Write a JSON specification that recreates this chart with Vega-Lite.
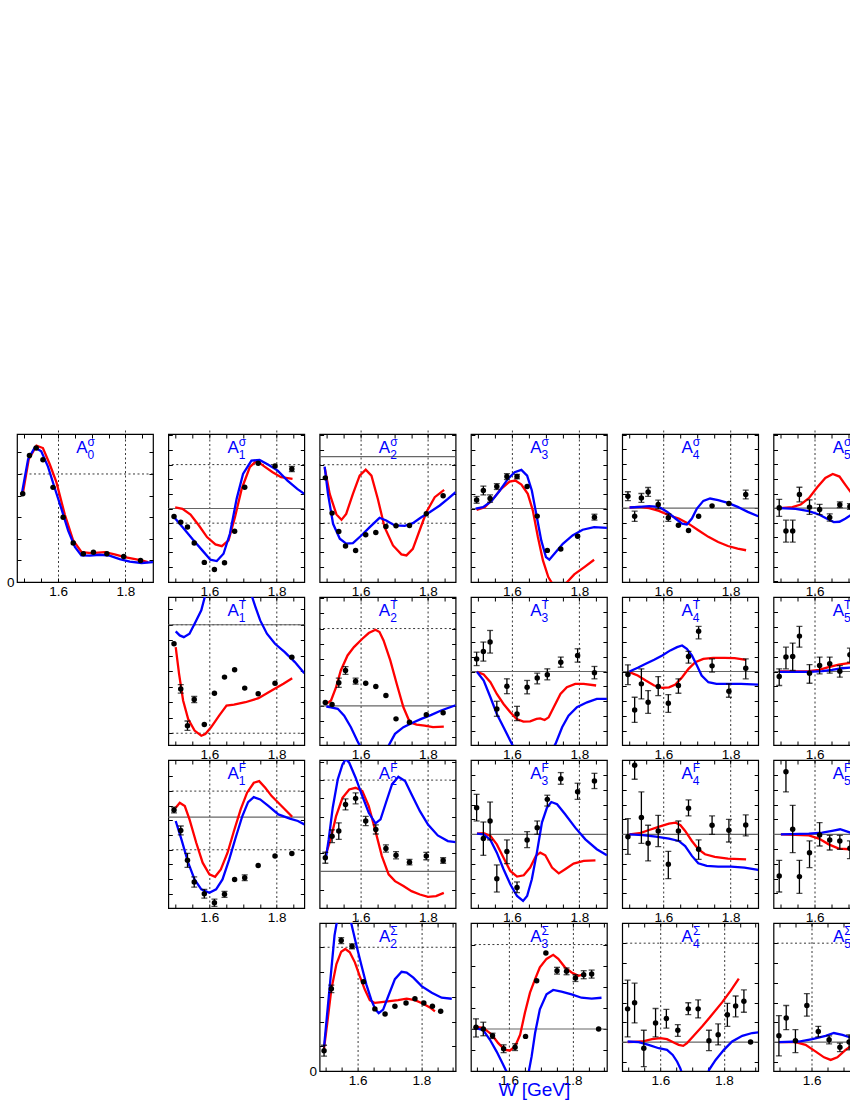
{
"$schema":"https://vega.github.io/schema/vega-lite/v6.json",
"padding":{"left":5,"top":432,"right":0,"bottom":0},
"config":{"font":"Liberation Sans","view":{"stroke":"#000","strokeWidth":1.2},"axis":{"domain":false,"grid":false,"offset":-4,"tickSize":4,"tickColor":"#000","tickWidth":1,"labelFont":"Liberation Sans","labelFontSize":13.5,"labelColor":"#000","labelPadding":2.5}},
"data":{"values":[
{"p":"s0","k":"t","w":1.654,"y":6.85,"s":"σ","b":"0"},
{"p":"s0","k":"g","y":5},
{"p":"s0","k":"p","w":1.495,"y":4.08},{"p":"s0","k":"p","w":1.515,"y":5.85},{"p":"s0","k":"p","w":1.535,"y":6.2},{"p":"s0","k":"p","w":1.555,"y":5.66},{"p":"s0","k":"p","w":1.585,"y":4.38},{"p":"s0","k":"p","w":1.615,"y":3.0},{"p":"s0","k":"p","w":1.645,"y":1.8},{"p":"s0","k":"p","w":1.675,"y":1.31},{"p":"s0","k":"p","w":1.705,"y":1.38},{"p":"s0","k":"p","w":1.745,"y":1.31},{"p":"s0","k":"p","w":1.795,"y":1.18},{"p":"s0","k":"p","w":1.845,"y":1.0},
{"p":"s0","k":"r","w":1.496,"y":4.15},{"p":"s0","k":"r","w":1.513,"y":5.69},{"p":"s0","k":"r","w":1.536,"y":6.31},{"p":"s0","k":"r","w":1.555,"y":6.2},{"p":"s0","k":"r","w":1.575,"y":5.46},{"p":"s0","k":"r","w":1.595,"y":4.62},{"p":"s0","k":"r","w":1.62,"y":3.12},{"p":"s0","k":"r","w":1.645,"y":1.92},{"p":"s0","k":"r","w":1.67,"y":1.38},{"p":"s0","k":"r","w":1.699,"y":1.34},{"p":"s0","k":"r","w":1.739,"y":1.38},{"p":"s0","k":"r","w":1.768,"y":1.28},{"p":"s0","k":"r","w":1.798,"y":1.15},{"p":"s0","k":"r","w":1.848,"y":1.0},{"p":"s0","k":"r","w":1.867,"y":0.92},
{"p":"s0","k":"b","w":1.493,"y":4.15},{"p":"s0","k":"b","w":1.511,"y":5.69},{"p":"s0","k":"b","w":1.531,"y":6.23},{"p":"s0","k":"b","w":1.55,"y":6.05},{"p":"s0","k":"b","w":1.57,"y":5.34},{"p":"s0","k":"b","w":1.59,"y":4.35},{"p":"s0","k":"b","w":1.61,"y":3.38},{"p":"s0","k":"b","w":1.63,"y":2.38},{"p":"s0","k":"b","w":1.65,"y":1.62},{"p":"s0","k":"b","w":1.669,"y":1.23},{"p":"s0","k":"b","w":1.694,"y":1.22},{"p":"s0","k":"b","w":1.724,"y":1.26},{"p":"s0","k":"b","w":1.753,"y":1.22},{"p":"s0","k":"b","w":1.783,"y":1.06},{"p":"s0","k":"b","w":1.813,"y":0.94},{"p":"s0","k":"b","w":1.848,"y":0.88},{"p":"s0","k":"b","w":1.882,"y":0.92},

{"p":"s1","k":"t","w":1.654,"y":5.09,"s":"σ","b":"1"},
{"p":"s1","k":"g","y":-1},{"p":"s1","k":"g","y":3},{"p":"s1","k":"z","y":0},
{"p":"s1","k":"p","w":1.495,"y":-0.55},{"p":"s1","k":"p","w":1.515,"y":-0.93},{"p":"s1","k":"p","w":1.535,"y":-1.27},{"p":"s1","k":"p","w":1.555,"y":-2.36},{"p":"s1","k":"p","w":1.585,"y":-3.68},{"p":"s1","k":"p","w":1.615,"y":-4.16},{"p":"s1","k":"p","w":1.645,"y":-3.7},{"p":"s1","k":"p","w":1.675,"y":-1.55},{"p":"s1","k":"p","w":1.705,"y":1.45},{"p":"s1","k":"p","w":1.745,"y":3.09},{"p":"s1","k":"p","w":1.795,"y":2.91},{"p":"s1","k":"p","w":1.845,"y":2.7,"lo":2.52,"hi":2.88},
{"p":"s1","k":"r","w":1.4985,"y":0.07},{"p":"s1","k":"r","w":1.52,"y":-0.02},{"p":"s1","k":"r","w":1.544,"y":-0.41},{"p":"s1","k":"r","w":1.569,"y":-1.16},{"p":"s1","k":"r","w":1.593,"y":-1.95},{"p":"s1","k":"r","w":1.618,"y":-2.45},{"p":"s1","k":"r","w":1.637,"y":-2.57},{"p":"s1","k":"r","w":1.657,"y":-2.18},{"p":"s1","k":"r","w":1.676,"y":-0.59},{"p":"s1","k":"r","w":1.696,"y":1.34},{"p":"s1","k":"r","w":1.72,"y":2.82},{"p":"s1","k":"r","w":1.74,"y":3.27},{"p":"s1","k":"r","w":1.764,"y":2.86},{"p":"s1","k":"r","w":1.788,"y":2.48},{"p":"s1","k":"r","w":1.813,"y":2.14},{"p":"s1","k":"r","w":1.847,"y":2.02},
{"p":"s1","k":"b","w":1.491,"y":-0.48},{"p":"s1","k":"b","w":1.52,"y":-1.27},{"p":"s1","k":"b","w":1.549,"y":-2.07},{"p":"s1","k":"b","w":1.579,"y":-2.86},{"p":"s1","k":"b","w":1.603,"y":-3.5},{"p":"s1","k":"b","w":1.622,"y":-3.59},{"p":"s1","k":"b","w":1.642,"y":-3.09},{"p":"s1","k":"b","w":1.661,"y":-1.73},{"p":"s1","k":"b","w":1.681,"y":0.66},{"p":"s1","k":"b","w":1.7,"y":2.36},{"p":"s1","k":"b","w":1.725,"y":3.27},{"p":"s1","k":"b","w":1.749,"y":3.32},{"p":"s1","k":"b","w":1.774,"y":3.0},{"p":"s1","k":"b","w":1.803,"y":2.59},{"p":"s1","k":"b","w":1.832,"y":1.91},{"p":"s1","k":"b","w":1.861,"y":1.34},{"p":"s1","k":"b","w":1.882,"y":1.0},

{"p":"s2","k":"t","w":1.654,"y":1.55,"s":"σ","b":"2"},
{"p":"s2","k":"g","y":-0.55},{"p":"s2","k":"g","y":-4.55},{"p":"s2","k":"z","y":0},
{"p":"s2","k":"p","w":1.495,"y":-1.45},{"p":"s2","k":"p","w":1.515,"y":-3.86},{"p":"s2","k":"p","w":1.535,"y":-5.11},{"p":"s2","k":"p","w":1.555,"y":-6.11},{"p":"s2","k":"p","w":1.585,"y":-6.41},{"p":"s2","k":"p","w":1.615,"y":-5.34},{"p":"s2","k":"p","w":1.645,"y":-5.18},{"p":"s2","k":"p","w":1.675,"y":-4.77},{"p":"s2","k":"p","w":1.705,"y":-4.73},{"p":"s2","k":"p","w":1.745,"y":-4.7},{"p":"s2","k":"p","w":1.795,"y":-3.91},{"p":"s2","k":"p","w":1.845,"y":-2.68},
{"p":"s2","k":"r","w":1.493,"y":-0.73},{"p":"s2","k":"r","w":1.508,"y":-2.55},{"p":"s2","k":"r","w":1.528,"y":-3.95},{"p":"s2","k":"r","w":1.543,"y":-4.32},{"p":"s2","k":"r","w":1.557,"y":-3.91},{"p":"s2","k":"r","w":1.577,"y":-2.55},{"p":"s2","k":"r","w":1.597,"y":-1.3},{"p":"s2","k":"r","w":1.615,"y":-0.89},{"p":"s2","k":"r","w":1.632,"y":-1.3},{"p":"s2","k":"r","w":1.651,"y":-2.89},{"p":"s2","k":"r","w":1.671,"y":-4.82},{"p":"s2","k":"r","w":1.696,"y":-6.07},{"p":"s2","k":"r","w":1.721,"y":-6.68},{"p":"s2","k":"r","w":1.736,"y":-6.75},{"p":"s2","k":"r","w":1.755,"y":-6.3},{"p":"s2","k":"r","w":1.775,"y":-5.05},{"p":"s2","k":"r","w":1.795,"y":-3.8},{"p":"s2","k":"r","w":1.82,"y":-2.77},{"p":"s2","k":"r","w":1.848,"y":-2.27},
{"p":"s2","k":"b","w":1.493,"y":-0.68},{"p":"s2","k":"b","w":1.503,"y":-2.55},{"p":"s2","k":"b","w":1.518,"y":-4.59},{"p":"s2","k":"b","w":1.538,"y":-5.61},{"p":"s2","k":"b","w":1.557,"y":-5.95},{"p":"s2","k":"b","w":1.577,"y":-5.91},{"p":"s2","k":"b","w":1.602,"y":-5.39},{"p":"s2","k":"b","w":1.627,"y":-4.82},{"p":"s2","k":"b","w":1.656,"y":-4.18},{"p":"s2","k":"b","w":1.676,"y":-4.36},{"p":"s2","k":"b","w":1.701,"y":-4.7},{"p":"s2","k":"b","w":1.731,"y":-4.73},{"p":"s2","k":"b","w":1.755,"y":-4.55},{"p":"s2","k":"b","w":1.78,"y":-4.14},{"p":"s2","k":"b","w":1.805,"y":-3.8},{"p":"s2","k":"b","w":1.835,"y":-3.34},{"p":"s2","k":"b","w":1.859,"y":-2.89},{"p":"s2","k":"b","w":1.882,"y":-2.43},

{"p":"s3","k":"t","w":1.654,"y":5.09,"s":"σ","b":"3"},
{"p":"s3","k":"z","y":0},
{"p":"s3","k":"p","w":1.495,"y":0.59,"lo":0.36,"hi":0.82},{"p":"s3","k":"p","w":1.515,"y":1.23,"lo":0.93,"hi":1.53},{"p":"s3","k":"p","w":1.535,"y":0.68,"lo":0.43,"hi":0.93},{"p":"s3","k":"p","w":1.555,"y":1.5,"lo":1.3,"hi":1.7},{"p":"s3","k":"p","w":1.585,"y":2.18,"lo":1.98,"hi":2.38},{"p":"s3","k":"p","w":1.615,"y":2.18,"lo":2.03,"hi":2.33},{"p":"s3","k":"p","w":1.645,"y":1.5},{"p":"s3","k":"p","w":1.675,"y":-0.52},{"p":"s3","k":"p","w":1.705,"y":-2.86},{"p":"s3","k":"p","w":1.745,"y":-2.77},{"p":"s3","k":"p","w":1.795,"y":-1.89},{"p":"s3","k":"p","w":1.845,"y":-0.59,"lo":-0.79,"hi":-0.39},
{"p":"s3","k":"r","w":1.495,"y":-0.09},{"p":"s3","k":"r","w":1.519,"y":0.09},{"p":"s3","k":"r","w":1.544,"y":0.66},{"p":"s3","k":"r","w":1.568,"y":1.34},{"p":"s3","k":"r","w":1.593,"y":1.84},{"p":"s3","k":"r","w":1.61,"y":1.91},{"p":"s3","k":"r","w":1.628,"y":1.64},{"p":"s3","k":"r","w":1.647,"y":1.0},{"p":"s3","k":"r","w":1.662,"y":-0.14},{"p":"s3","k":"r","w":1.677,"y":-1.95},{"p":"s3","k":"r","w":1.692,"y":-3.55},{"p":"s3","k":"r","w":1.708,"y":-4.68},{"p":"s3","k":"r","w":1.724,"y":-5.3},{"p":"s3","k":"r","w":1.741,"y":-5.7},{"p":"s3","k":"r","w":1.761,"y":-5.1},{"p":"s3","k":"r","w":1.785,"y":-4.5},{"p":"s3","k":"r","w":1.815,"y":-4.0},{"p":"s3","k":"r","w":1.844,"y":-3.5},
{"p":"s3","k":"b","w":1.492,"y":0.0},{"p":"s3","k":"b","w":1.514,"y":0.09},{"p":"s3","k":"b","w":1.539,"y":0.5},{"p":"s3","k":"b","w":1.564,"y":1.23},{"p":"s3","k":"b","w":1.588,"y":2.02},{"p":"s3","k":"b","w":1.608,"y":2.48},{"p":"s3","k":"b","w":1.628,"y":2.64},{"p":"s3","k":"b","w":1.645,"y":2.25},{"p":"s3","k":"b","w":1.659,"y":1.23},{"p":"s3","k":"b","w":1.672,"y":-0.36},{"p":"s3","k":"b","w":1.687,"y":-2.18},{"p":"s3","k":"b","w":1.701,"y":-3.32},{"p":"s3","k":"b","w":1.711,"y":-3.5},{"p":"s3","k":"b","w":1.726,"y":-3.09},{"p":"s3","k":"b","w":1.751,"y":-2.41},{"p":"s3","k":"b","w":1.78,"y":-1.84},{"p":"s3","k":"b","w":1.81,"y":-1.45},{"p":"s3","k":"b","w":1.844,"y":-1.27},{"p":"s3","k":"b","w":1.882,"y":-1.32},

{"p":"s4","k":"t","w":1.654,"y":5.05,"s":"σ","b":"4"},
{"p":"s4","k":"z","y":0},
{"p":"s4","k":"p","w":1.495,"y":0.82,"lo":0.52,"hi":1.12},{"p":"s4","k":"p","w":1.515,"y":-0.55,"lo":-0.9,"hi":-0.2},{"p":"s4","k":"p","w":1.535,"y":0.7,"lo":0.4,"hi":1.0},{"p":"s4","k":"p","w":1.555,"y":1.11,"lo":0.81,"hi":1.41},{"p":"s4","k":"p","w":1.585,"y":0.25,"lo":-0.05,"hi":0.55},{"p":"s4","k":"p","w":1.615,"y":-0.64,"lo":-0.89,"hi":-0.39},{"p":"s4","k":"p","w":1.645,"y":-1.16},{"p":"s4","k":"p","w":1.675,"y":-1.52},{"p":"s4","k":"p","w":1.705,"y":-0.55},{"p":"s4","k":"p","w":1.745,"y":0.16},{"p":"s4","k":"p","w":1.795,"y":0.32},{"p":"s4","k":"p","w":1.845,"y":0.93,"lo":0.63,"hi":1.23},
{"p":"s4","k":"r","w":1.5,"y":0.05},{"p":"s4","k":"r","w":1.529,"y":0.09},{"p":"s4","k":"r","w":1.558,"y":0.0},{"p":"s4","k":"r","w":1.587,"y":-0.18},{"p":"s4","k":"r","w":1.617,"y":-0.48},{"p":"s4","k":"r","w":1.646,"y":-0.7},{"p":"s4","k":"r","w":1.675,"y":-1.05},{"p":"s4","k":"r","w":1.704,"y":-1.5},{"p":"s4","k":"r","w":1.734,"y":-1.95},{"p":"s4","k":"r","w":1.763,"y":-2.3},{"p":"s4","k":"r","w":1.792,"y":-2.57},{"p":"s4","k":"r","w":1.821,"y":-2.75},{"p":"s4","k":"r","w":1.846,"y":-2.86},
{"p":"s4","k":"b","w":1.5,"y":0.05},{"p":"s4","k":"b","w":1.529,"y":0.09},{"p":"s4","k":"b","w":1.558,"y":0.14},{"p":"s4","k":"b","w":1.587,"y":0.09},{"p":"s4","k":"b","w":1.612,"y":-0.25},{"p":"s4","k":"b","w":1.636,"y":-0.7},{"p":"s4","k":"b","w":1.656,"y":-1.05},{"p":"s4","k":"b","w":1.67,"y":-1.11},{"p":"s4","k":"b","w":1.685,"y":-0.7},{"p":"s4","k":"b","w":1.7,"y":-0.02},{"p":"s4","k":"b","w":1.719,"y":0.5},{"p":"s4","k":"b","w":1.739,"y":0.66},{"p":"s4","k":"b","w":1.763,"y":0.55},{"p":"s4","k":"b","w":1.792,"y":0.36},{"p":"s4","k":"b","w":1.821,"y":0.09},{"p":"s4","k":"b","w":1.851,"y":-0.25},{"p":"s4","k":"b","w":1.882,"y":-0.55},

{"p":"s5","k":"t","w":1.654,"y":5.07,"s":"σ","b":"5"},
{"p":"s5","k":"z","y":0},
{"p":"s5","k":"p","w":1.495,"y":0.02,"lo":-0.56,"hi":0.6},{"p":"s5","k":"p","w":1.515,"y":-1.57,"lo":-2.32,"hi":-0.82},{"p":"s5","k":"p","w":1.535,"y":-1.57,"lo":-2.32,"hi":-0.82},{"p":"s5","k":"p","w":1.555,"y":0.93,"lo":0.43,"hi":1.43},{"p":"s5","k":"p","w":1.585,"y":0.07,"lo":-0.43,"hi":0.57},{"p":"s5","k":"p","w":1.615,"y":-0.09,"lo":-0.44,"hi":0.26},{"p":"s5","k":"p","w":1.645,"y":-0.64,"lo":-0.89,"hi":-0.39},{"p":"s5","k":"p","w":1.675,"y":0.23,"lo":0.03,"hi":0.43},{"p":"s5","k":"p","w":1.705,"y":0.11,"lo":-0.09,"hi":0.31},
{"p":"s5","k":"r","w":1.497,"y":0.0},{"p":"s5","k":"r","w":1.534,"y":0.07},{"p":"s5","k":"r","w":1.559,"y":0.25},{"p":"s5","k":"r","w":1.583,"y":0.68},{"p":"s5","k":"r","w":1.608,"y":1.43},{"p":"s5","k":"r","w":1.632,"y":2.07},{"p":"s5","k":"r","w":1.654,"y":2.34},{"p":"s5","k":"r","w":1.674,"y":2.16},{"p":"s5","k":"r","w":1.691,"y":1.61},{"p":"s5","k":"r","w":1.711,"y":0.98},{"p":"s5","k":"r","w":1.73,"y":0.5},
{"p":"s5","k":"b","w":1.497,"y":0.0},{"p":"s5","k":"b","w":1.544,"y":-0.05},{"p":"s5","k":"b","w":1.583,"y":-0.2},{"p":"s5","k":"b","w":1.613,"y":-0.43},{"p":"s5","k":"b","w":1.637,"y":-0.73},{"p":"s5","k":"b","w":1.657,"y":-0.95},{"p":"s5","k":"b","w":1.674,"y":-0.93},{"p":"s5","k":"b","w":1.691,"y":-0.73},{"p":"s5","k":"b","w":1.711,"y":-0.43},{"p":"s5","k":"b","w":1.73,"y":-0.2},

{"p":"t1","k":"t","w":1.654,"y":1.79,"s":"T","b":"1"},
{"p":"t1","k":"g","y":-7},{"p":"t1","k":"z","y":0},{"p":"t1","k":"g","y":0},
{"p":"t1","k":"p","w":1.495,"y":-1.23},{"p":"t1","k":"p","w":1.515,"y":-4.14,"lo":-4.41,"hi":-3.87},{"p":"t1","k":"p","w":1.535,"y":-6.51,"lo":-6.81,"hi":-6.21},{"p":"t1","k":"p","w":1.555,"y":-4.83,"lo":-5.03,"hi":-4.63},{"p":"t1","k":"p","w":1.585,"y":-6.44},{"p":"t1","k":"p","w":1.615,"y":-4.42},{"p":"t1","k":"p","w":1.645,"y":-3.38},{"p":"t1","k":"p","w":1.675,"y":-2.91},{"p":"t1","k":"p","w":1.705,"y":-4.09},{"p":"t1","k":"p","w":1.745,"y":-4.46},{"p":"t1","k":"p","w":1.795,"y":-3.77},{"p":"t1","k":"p","w":1.845,"y":-2.09},
{"p":"t1","k":"r","w":1.5,"y":-1.44},{"p":"t1","k":"r","w":1.51,"y":-3.17},{"p":"t1","k":"r","w":1.522,"y":-4.89},{"p":"t1","k":"r","w":1.537,"y":-6.08},{"p":"t1","k":"r","w":1.556,"y":-6.83},{"p":"t1","k":"r","w":1.576,"y":-7.16},{"p":"t1","k":"r","w":1.588,"y":-7.05},{"p":"t1","k":"r","w":1.605,"y":-6.62},{"p":"t1","k":"r","w":1.629,"y":-5.86},{"p":"t1","k":"r","w":1.651,"y":-5.22},{"p":"t1","k":"r","w":1.673,"y":-5.15},{"p":"t1","k":"r","w":1.707,"y":-5.0},{"p":"t1","k":"r","w":1.746,"y":-4.74},{"p":"t1","k":"r","w":1.785,"y":-4.25},{"p":"t1","k":"r","w":1.82,"y":-3.81},{"p":"t1","k":"r","w":1.846,"y":-3.45},
{"p":"t1","k":"b","w":1.5,"y":-0.43},{"p":"t1","k":"b","w":1.512,"y":-0.69},{"p":"t1","k":"b","w":1.524,"y":-0.8},{"p":"t1","k":"b","w":1.541,"y":-0.58},{"p":"t1","k":"b","w":1.561,"y":0.28},{"p":"t1","k":"b","w":1.576,"y":0.93},{"p":"t1","k":"b","w":1.585,"y":1.68},{"p":"t1","k":"b","w":1.595,"y":2.4},{"p":"t1","k":"b","w":1.62,"y":3.5},{"p":"t1","k":"b","w":1.66,"y":4.0},{"p":"t1","k":"b","w":1.7,"y":3.3},{"p":"t1","k":"b","w":1.727,"y":1.79},{"p":"t1","k":"b","w":1.737,"y":1.14},{"p":"t1","k":"b","w":1.751,"y":0.28},{"p":"t1","k":"b","w":1.771,"y":-0.58},{"p":"t1","k":"b","w":1.795,"y":-1.23},{"p":"t1","k":"b","w":1.824,"y":-1.77},{"p":"t1","k":"b","w":1.854,"y":-2.41},{"p":"t1","k":"b","w":1.882,"y":-3.13},

{"p":"t2","k":"t","w":1.654,"y":7.04,"s":"T","b":"2"},
{"p":"t2","k":"g","y":5},{"p":"t2","k":"z","y":0},
{"p":"t2","k":"p","w":1.495,"y":0.22},{"p":"t2","k":"p","w":1.515,"y":0.09},{"p":"t2","k":"p","w":1.535,"y":1.49,"lo":1.19,"hi":1.79},{"p":"t2","k":"p","w":1.555,"y":2.29,"lo":2.04,"hi":2.54},{"p":"t2","k":"p","w":1.585,"y":1.6,"lo":1.4,"hi":1.8},{"p":"t2","k":"p","w":1.615,"y":1.47},{"p":"t2","k":"p","w":1.645,"y":1.25},{"p":"t2","k":"p","w":1.675,"y":0.67},{"p":"t2","k":"p","w":1.705,"y":-0.84},{"p":"t2","k":"p","w":1.745,"y":-1.06},{"p":"t2","k":"p","w":1.795,"y":-0.58},{"p":"t2","k":"p","w":1.845,"y":-0.45},
{"p":"t2","k":"r","w":1.498,"y":0.13},{"p":"t2","k":"r","w":1.512,"y":0.35},{"p":"t2","k":"r","w":1.527,"y":1.21},{"p":"t2","k":"r","w":1.541,"y":2.29},{"p":"t2","k":"r","w":1.561,"y":3.26},{"p":"t2","k":"r","w":1.58,"y":3.8},{"p":"t2","k":"r","w":1.605,"y":4.34},{"p":"t2","k":"r","w":1.624,"y":4.71},{"p":"t2","k":"r","w":1.644,"y":4.92},{"p":"t2","k":"r","w":1.656,"y":4.77},{"p":"t2","k":"r","w":1.668,"y":4.23},{"p":"t2","k":"r","w":1.688,"y":2.94},{"p":"t2","k":"r","w":1.707,"y":1.43},{"p":"t2","k":"r","w":1.727,"y":-0.09},{"p":"t2","k":"r","w":1.746,"y":-1.06},{"p":"t2","k":"r","w":1.766,"y":-1.21},{"p":"t2","k":"r","w":1.79,"y":-1.27},{"p":"t2","k":"r","w":1.815,"y":-1.38},{"p":"t2","k":"r","w":1.847,"y":-1.34},
{"p":"t2","k":"b","w":1.498,"y":-0.04},{"p":"t2","k":"b","w":1.512,"y":-0.09},{"p":"t2","k":"b","w":1.532,"y":-0.19},{"p":"t2","k":"b","w":1.551,"y":-0.63},{"p":"t2","k":"b","w":1.571,"y":-1.38},{"p":"t2","k":"b","w":1.59,"y":-2.25},{"p":"t2","k":"b","w":1.6,"y":-2.68},{"p":"t2","k":"b","w":1.63,"y":-3.6},{"p":"t2","k":"b","w":1.66,"y":-3.3},{"p":"t2","k":"b","w":1.683,"y":-2.57},{"p":"t2","k":"b","w":1.702,"y":-1.81},{"p":"t2","k":"b","w":1.727,"y":-1.38},{"p":"t2","k":"b","w":1.751,"y":-1.12},{"p":"t2","k":"b","w":1.78,"y":-0.84},{"p":"t2","k":"b","w":1.81,"y":-0.58},{"p":"t2","k":"b","w":1.839,"y":-0.3},{"p":"t2","k":"b","w":1.882,"y":0.04},

{"p":"t3","k":"t","w":1.654,"y":5.01,"s":"T","b":"3"},
{"p":"t3","k":"z","y":0},
{"p":"t3","k":"p","w":1.495,"y":0.85,"lo":0.4,"hi":1.3},{"p":"t3","k":"p","w":1.515,"y":1.35,"lo":0.7,"hi":1.98},{"p":"t3","k":"p","w":1.535,"y":1.98,"lo":1.24,"hi":2.76},{"p":"t3","k":"p","w":1.555,"y":-2.52,"lo":-3.01,"hi":-2.0},{"p":"t3","k":"p","w":1.585,"y":-0.99,"lo":-1.49,"hi":-0.49},{"p":"t3","k":"p","w":1.615,"y":-2.85,"lo":-3.3,"hi":-2.34},{"p":"t3","k":"p","w":1.645,"y":-1.06,"lo":-1.5,"hi":-0.6},{"p":"t3","k":"p","w":1.675,"y":-0.43,"lo":-0.83,"hi":-0.11},{"p":"t3","k":"p","w":1.705,"y":-0.22,"lo":-0.56,"hi":0.18},{"p":"t3","k":"p","w":1.745,"y":0.63,"lo":0.29,"hi":0.97},{"p":"t3","k":"p","w":1.795,"y":1.08,"lo":0.63,"hi":1.53},{"p":"t3","k":"p","w":1.845,"y":-0.09,"lo":-0.49,"hi":0.34},
{"p":"t3","k":"r","w":1.496,"y":-0.02},{"p":"t3","k":"r","w":1.516,"y":-0.2},{"p":"t3","k":"r","w":1.536,"y":-0.72},{"p":"t3","k":"r","w":1.555,"y":-1.51},{"p":"t3","k":"r","w":1.575,"y":-2.18},{"p":"t3","k":"r","w":1.595,"y":-2.74},{"p":"t3","k":"r","w":1.614,"y":-3.19},{"p":"t3","k":"r","w":1.634,"y":-3.37},{"p":"t3","k":"r","w":1.654,"y":-3.35},{"p":"t3","k":"r","w":1.673,"y":-3.19},{"p":"t3","k":"r","w":1.684,"y":-3.15},{"p":"t3","k":"r","w":1.697,"y":-3.26},{"p":"t3","k":"r","w":1.709,"y":-3.08},{"p":"t3","k":"r","w":1.724,"y":-2.4},{"p":"t3","k":"r","w":1.744,"y":-1.51},{"p":"t3","k":"r","w":1.763,"y":-1.06},{"p":"t3","k":"r","w":1.788,"y":-0.83},{"p":"t3","k":"r","w":1.813,"y":-0.83},{"p":"t3","k":"r","w":1.85,"y":-0.94},
{"p":"t3","k":"b","w":1.496,"y":-0.02},{"p":"t3","k":"b","w":1.516,"y":-0.61},{"p":"t3","k":"b","w":1.536,"y":-1.73},{"p":"t3","k":"b","w":1.555,"y":-2.85},{"p":"t3","k":"b","w":1.575,"y":-3.75},{"p":"t3","k":"b","w":1.595,"y":-4.65},{"p":"t3","k":"b","w":1.605,"y":-5.1},{"p":"t3","k":"b","w":1.64,"y":-6.5},{"p":"t3","k":"b","w":1.69,"y":-6.3},{"p":"t3","k":"b","w":1.729,"y":-4.88},{"p":"t3","k":"b","w":1.749,"y":-3.75},{"p":"t3","k":"b","w":1.768,"y":-2.97},{"p":"t3","k":"b","w":1.793,"y":-2.4},{"p":"t3","k":"b","w":1.823,"y":-2.07},{"p":"t3","k":"b","w":1.852,"y":-1.84},{"p":"t3","k":"b","w":1.882,"y":-1.84},

{"p":"t4","k":"t","w":1.654,"y":5.01,"s":"T","b":"4"},
{"p":"t4","k":"z","y":0},
{"p":"t4","k":"p","w":1.495,"y":-0.2,"lo":-0.88,"hi":0.45},{"p":"t4","k":"p","w":1.515,"y":-2.58,"lo":-3.42,"hi":-1.73},{"p":"t4","k":"p","w":1.535,"y":-0.83,"lo":-1.84,"hi":0.18},{"p":"t4","k":"p","w":1.555,"y":-2.07,"lo":-2.81,"hi":-1.28},{"p":"t4","k":"p","w":1.585,"y":-1.01,"lo":-1.62,"hi":-0.34},{"p":"t4","k":"p","w":1.615,"y":-2.13,"lo":-2.74,"hi":-1.55},{"p":"t4","k":"p","w":1.645,"y":-0.94,"lo":-1.46,"hi":-0.49},{"p":"t4","k":"p","w":1.675,"y":1.01,"lo":0.56,"hi":1.35},{"p":"t4","k":"p","w":1.705,"y":2.7,"lo":2.2,"hi":3.03},{"p":"t4","k":"p","w":1.745,"y":0.38,"lo":-0.04,"hi":0.85},{"p":"t4","k":"p","w":1.795,"y":-1.33,"lo":-1.73,"hi":-0.83},{"p":"t4","k":"p","w":1.845,"y":0.22,"lo":-0.49,"hi":0.85},
{"p":"t4","k":"r","w":1.4995,"y":-0.04},{"p":"t4","k":"r","w":1.524,"y":-0.27},{"p":"t4","k":"r","w":1.548,"y":-0.61},{"p":"t4","k":"r","w":1.573,"y":-0.94},{"p":"t4","k":"r","w":1.597,"y":-1.1},{"p":"t4","k":"r","w":1.617,"y":-1.06},{"p":"t4","k":"r","w":1.636,"y":-0.88},{"p":"t4","k":"r","w":1.656,"y":-0.38},{"p":"t4","k":"r","w":1.675,"y":0.18},{"p":"t4","k":"r","w":1.695,"y":0.63},{"p":"t4","k":"r","w":1.719,"y":0.85},{"p":"t4","k":"r","w":1.748,"y":0.92},{"p":"t4","k":"r","w":1.782,"y":0.92},{"p":"t4","k":"r","w":1.812,"y":0.9},{"p":"t4","k":"r","w":1.846,"y":0.79},
{"p":"t4","k":"b","w":1.4995,"y":0.0},{"p":"t4","k":"b","w":1.524,"y":0.25},{"p":"t4","k":"b","w":1.548,"y":0.52},{"p":"t4","k":"b","w":1.573,"y":0.79},{"p":"t4","k":"b","w":1.597,"y":1.08},{"p":"t4","k":"b","w":1.621,"y":1.42},{"p":"t4","k":"b","w":1.641,"y":1.64},{"p":"t4","k":"b","w":1.656,"y":1.75},{"p":"t4","k":"b","w":1.67,"y":1.53},{"p":"t4","k":"b","w":1.685,"y":1.08},{"p":"t4","k":"b","w":1.7,"y":0.4},{"p":"t4","k":"b","w":1.714,"y":-0.27},{"p":"t4","k":"b","w":1.734,"y":-0.72},{"p":"t4","k":"b","w":1.758,"y":-0.83},{"p":"t4","k":"b","w":1.792,"y":-0.83},{"p":"t4","k":"b","w":1.831,"y":-0.83},{"p":"t4","k":"b","w":1.882,"y":-0.88},

{"p":"t5","k":"t","w":1.654,"y":5.01,"s":"T","b":"5"},
{"p":"t5","k":"z","y":0},
{"p":"t5","k":"p","w":1.495,"y":-0.34,"lo":-0.94,"hi":0.18},{"p":"t5","k":"p","w":1.515,"y":0.97,"lo":0.18,"hi":1.64},{"p":"t5","k":"p","w":1.535,"y":1.01,"lo":0.07,"hi":1.91},{"p":"t5","k":"p","w":1.555,"y":2.38,"lo":1.64,"hi":3.03},{"p":"t5","k":"p","w":1.585,"y":-0.11,"lo":-0.79,"hi":0.47},{"p":"t5","k":"p","w":1.615,"y":0.4,"lo":-0.16,"hi":0.97},{"p":"t5","k":"p","w":1.645,"y":0.52,"lo":-0.11,"hi":0.97},{"p":"t5","k":"p","w":1.675,"y":0.02,"lo":-0.38,"hi":0.4},{"p":"t5","k":"p","w":1.705,"y":1.12,"lo":0.63,"hi":1.57},
{"p":"t5","k":"r","w":1.495,"y":0.0},{"p":"t5","k":"r","w":1.544,"y":0.0},{"p":"t5","k":"r","w":1.583,"y":0.02},{"p":"t5","k":"r","w":1.613,"y":0.11},{"p":"t5","k":"r","w":1.642,"y":0.29},{"p":"t5","k":"r","w":1.672,"y":0.47},{"p":"t5","k":"r","w":1.701,"y":0.56},{"p":"t5","k":"r","w":1.73,"y":0.6},
{"p":"t5","k":"b","w":1.495,"y":-0.02},{"p":"t5","k":"b","w":1.583,"y":-0.02},{"p":"t5","k":"b","w":1.623,"y":0.02},{"p":"t5","k":"b","w":1.652,"y":0.11},{"p":"t5","k":"b","w":1.681,"y":0.22},{"p":"t5","k":"b","w":1.73,"y":0.3},

{"p":"f1","k":"t","w":1.654,"y":3.89,"s":"F","b":"1"},
{"p":"f1","k":"g","y":1.77},{"p":"f1","k":"g","y":-2.23},{"p":"f1","k":"z","y":0},
{"p":"f1","k":"p","w":1.495,"y":0.48,"lo":0.28,"hi":0.68},{"p":"f1","k":"p","w":1.515,"y":-0.91,"lo":-1.21,"hi":-0.61},{"p":"f1","k":"p","w":1.535,"y":-2.95,"lo":-3.43,"hi":-2.47},{"p":"f1","k":"p","w":1.555,"y":-4.43,"lo":-4.78,"hi":-4.08},{"p":"f1","k":"p","w":1.585,"y":-5.23,"lo":-5.53,"hi":-4.93},{"p":"f1","k":"p","w":1.615,"y":-5.84,"lo":-6.09,"hi":-5.59},{"p":"f1","k":"p","w":1.645,"y":-5.27,"lo":-5.47,"hi":-5.07},{"p":"f1","k":"p","w":1.675,"y":-4.25},{"p":"f1","k":"p","w":1.705,"y":-4.14,"lo":-4.34,"hi":-3.94},{"p":"f1","k":"p","w":1.745,"y":-3.3},{"p":"f1","k":"p","w":1.795,"y":-2.66},{"p":"f1","k":"p","w":1.845,"y":-2.48},
{"p":"f1","k":"r","w":1.5,"y":0.64},{"p":"f1","k":"r","w":1.512,"y":0.98},{"p":"f1","k":"r","w":1.527,"y":0.75},{"p":"f1","k":"r","w":1.541,"y":-0.16},{"p":"f1","k":"r","w":1.561,"y":-1.75},{"p":"f1","k":"r","w":1.58,"y":-3.11},{"p":"f1","k":"r","w":1.6,"y":-3.91},{"p":"f1","k":"r","w":1.617,"y":-4.07},{"p":"f1","k":"r","w":1.634,"y":-3.57},{"p":"f1","k":"r","w":1.654,"y":-2.43},{"p":"f1","k":"r","w":1.673,"y":-0.95},{"p":"f1","k":"r","w":1.693,"y":0.52},{"p":"f1","k":"r","w":1.712,"y":1.66},{"p":"f1","k":"r","w":1.732,"y":2.34},{"p":"f1","k":"r","w":1.748,"y":2.45},{"p":"f1","k":"r","w":1.766,"y":2.0},{"p":"f1","k":"r","w":1.785,"y":1.43},{"p":"f1","k":"r","w":1.81,"y":0.86},{"p":"f1","k":"r","w":1.846,"y":0.02},
{"p":"f1","k":"b","w":1.5,"y":-0.27},{"p":"f1","k":"b","w":1.517,"y":-1.52},{"p":"f1","k":"b","w":1.537,"y":-3.11},{"p":"f1","k":"b","w":1.556,"y":-4.25},{"p":"f1","k":"b","w":1.576,"y":-4.93},{"p":"f1","k":"b","w":1.6,"y":-5.16},{"p":"f1","k":"b","w":1.62,"y":-4.93},{"p":"f1","k":"b","w":1.639,"y":-4.25},{"p":"f1","k":"b","w":1.659,"y":-2.89},{"p":"f1","k":"b","w":1.678,"y":-1.41},{"p":"f1","k":"b","w":1.698,"y":0.07},{"p":"f1","k":"b","w":1.715,"y":1.02},{"p":"f1","k":"b","w":1.732,"y":1.36},{"p":"f1","k":"b","w":1.751,"y":1.2},{"p":"f1","k":"b","w":1.776,"y":0.75},{"p":"f1","k":"b","w":1.805,"y":0.18},{"p":"f1","k":"b","w":1.839,"y":-0.11},{"p":"f1","k":"b","w":1.863,"y":-0.27},{"p":"f1","k":"b","w":1.882,"y":-0.5},

{"p":"f2","k":"t","w":1.654,"y":6.1,"s":"F","b":"2"},
{"p":"f2","k":"g","y":5},{"p":"f2","k":"z","y":0},
{"p":"f2","k":"p","w":1.495,"y":0.75,"lo":0.45,"hi":1.05},{"p":"f2","k":"p","w":1.515,"y":1.93,"lo":1.58,"hi":2.28},{"p":"f2","k":"p","w":1.535,"y":2.21,"lo":1.76,"hi":2.66},{"p":"f2","k":"p","w":1.555,"y":3.67,"lo":3.37,"hi":3.97},{"p":"f2","k":"p","w":1.585,"y":4.0,"lo":3.7,"hi":4.3},{"p":"f2","k":"p","w":1.615,"y":2.76,"lo":2.51,"hi":3.01},{"p":"f2","k":"p","w":1.645,"y":2.3,"lo":2.05,"hi":2.55},{"p":"f2","k":"p","w":1.675,"y":1.26,"lo":1.06,"hi":1.46},{"p":"f2","k":"p","w":1.705,"y":0.89,"lo":0.69,"hi":1.09},{"p":"f2","k":"p","w":1.745,"y":0.51,"lo":0.36,"hi":0.66},{"p":"f2","k":"p","w":1.795,"y":0.84,"lo":0.64,"hi":1.04},{"p":"f2","k":"p","w":1.845,"y":0.6,"lo":0.45,"hi":0.75},
{"p":"f2","k":"r","w":1.498,"y":1.02},{"p":"f2","k":"r","w":1.512,"y":1.84},{"p":"f2","k":"r","w":1.527,"y":3.03},{"p":"f2","k":"r","w":1.546,"y":4.03},{"p":"f2","k":"r","w":1.566,"y":4.49},{"p":"f2","k":"r","w":1.585,"y":4.58},{"p":"f2","k":"r","w":1.605,"y":4.4},{"p":"f2","k":"r","w":1.624,"y":3.58},{"p":"f2","k":"r","w":1.644,"y":2.21},{"p":"f2","k":"r","w":1.663,"y":0.84},{"p":"f2","k":"r","w":1.683,"y":-0.16},{"p":"f2","k":"r","w":1.702,"y":-0.53},{"p":"f2","k":"r","w":1.727,"y":-0.8},{"p":"f2","k":"r","w":1.751,"y":-1.08},{"p":"f2","k":"r","w":1.776,"y":-1.26},{"p":"f2","k":"r","w":1.8,"y":-1.39},{"p":"f2","k":"r","w":1.824,"y":-1.35},{"p":"f2","k":"r","w":1.847,"y":-1.17},
{"p":"f2","k":"b","w":1.496,"y":0.66},{"p":"f2","k":"b","w":1.505,"y":1.75},{"p":"f2","k":"b","w":1.517,"y":3.49},{"p":"f2","k":"b","w":1.532,"y":5.04},{"p":"f2","k":"b","w":1.546,"y":5.86},{"p":"f2","k":"b","w":1.556,"y":6.15},{"p":"f2","k":"b","w":1.566,"y":5.95},{"p":"f2","k":"b","w":1.585,"y":5.13},{"p":"f2","k":"b","w":1.605,"y":4.12},{"p":"f2","k":"b","w":1.624,"y":3.21},{"p":"f2","k":"b","w":1.644,"y":2.63},{"p":"f2","k":"b","w":1.659,"y":2.85},{"p":"f2","k":"b","w":1.675,"y":3.76},{"p":"f2","k":"b","w":1.693,"y":4.76},{"p":"f2","k":"b","w":1.712,"y":5.18},{"p":"f2","k":"b","w":1.732,"y":4.95},{"p":"f2","k":"b","w":1.751,"y":4.22},{"p":"f2","k":"b","w":1.776,"y":3.3},{"p":"f2","k":"b","w":1.8,"y":2.57},{"p":"f2","k":"b","w":1.829,"y":1.97},{"p":"f2","k":"b","w":1.859,"y":1.66},{"p":"f2","k":"b","w":1.882,"y":1.61},

{"p":"f3","k":"t","w":1.654,"y":5.02,"s":"F","b":"3"},
{"p":"f3","k":"z","y":0},
{"p":"f3","k":"p","w":1.495,"y":1.8,"lo":0.9,"hi":2.7},{"p":"f3","k":"p","w":1.515,"y":-0.29,"lo":-1.42,"hi":0.83},{"p":"f3","k":"p","w":1.535,"y":0.9,"lo":-0.38,"hi":2.18},{"p":"f3","k":"p","w":1.555,"y":-3.0,"lo":-3.9,"hi":-2.07},{"p":"f3","k":"p","w":1.585,"y":-1.17,"lo":-1.98,"hi":-0.38},{"p":"f3","k":"p","w":1.615,"y":-3.6,"lo":-3.94,"hi":-3.22},{"p":"f3","k":"p","w":1.645,"y":-0.38,"lo":-0.9,"hi":0.18},{"p":"f3","k":"p","w":1.675,"y":0.45,"lo":0.0,"hi":0.9},{"p":"f3","k":"p","w":1.705,"y":2.36,"lo":1.91,"hi":2.64},{"p":"f3","k":"p","w":1.745,"y":3.76,"lo":3.38,"hi":4.17},{"p":"f3","k":"p","w":1.795,"y":2.88,"lo":2.36,"hi":3.45},{"p":"f3","k":"p","w":1.845,"y":3.6,"lo":3.09,"hi":4.12},
{"p":"f3","k":"r","w":1.496,"y":0.05},{"p":"f3","k":"r","w":1.516,"y":0.07},{"p":"f3","k":"r","w":1.536,"y":-0.11},{"p":"f3","k":"r","w":1.555,"y":-0.68},{"p":"f3","k":"r","w":1.575,"y":-1.58},{"p":"f3","k":"r","w":1.595,"y":-2.48},{"p":"f3","k":"r","w":1.615,"y":-2.86},{"p":"f3","k":"r","w":1.635,"y":-2.77},{"p":"f3","k":"r","w":1.654,"y":-2.25},{"p":"f3","k":"r","w":1.671,"y":-1.46},{"p":"f3","k":"r","w":1.684,"y":-1.24},{"p":"f3","k":"r","w":1.699,"y":-1.42},{"p":"f3","k":"r","w":1.719,"y":-2.25},{"p":"f3","k":"r","w":1.739,"y":-2.64},{"p":"f3","k":"r","w":1.758,"y":-2.36},{"p":"f3","k":"r","w":1.783,"y":-1.98},{"p":"f3","k":"r","w":1.813,"y":-1.8},{"p":"f3","k":"r","w":1.848,"y":-1.76},
{"p":"f3","k":"b","w":1.496,"y":0.05},{"p":"f3","k":"b","w":1.516,"y":0.0},{"p":"f3","k":"b","w":1.536,"y":-0.38},{"p":"f3","k":"b","w":1.555,"y":-1.24},{"p":"f3","k":"b","w":1.575,"y":-2.36},{"p":"f3","k":"b","w":1.595,"y":-3.38},{"p":"f3","k":"b","w":1.615,"y":-4.17},{"p":"f3","k":"b","w":1.633,"y":-4.5},{"p":"f3","k":"b","w":1.645,"y":-4.17},{"p":"f3","k":"b","w":1.659,"y":-3.04},{"p":"f3","k":"b","w":1.674,"y":-1.24},{"p":"f3","k":"b","w":1.689,"y":0.79},{"p":"f3","k":"b","w":1.704,"y":1.8},{"p":"f3","k":"b","w":1.717,"y":2.18},{"p":"f3","k":"b","w":1.734,"y":2.03},{"p":"f3","k":"b","w":1.758,"y":1.35},{"p":"f3","k":"b","w":1.788,"y":0.45},{"p":"f3","k":"b","w":1.818,"y":-0.34},{"p":"f3","k":"b","w":1.852,"y":-1.01},{"p":"f3","k":"b","w":1.882,"y":-1.42},

{"p":"f4","k":"t","w":1.654,"y":5.02,"s":"F","b":"4"},
{"p":"f4","k":"z","y":0},
{"p":"f4","k":"p","w":1.495,"y":-0.16,"lo":-1.35,"hi":1.06},{"p":"f4","k":"p","w":1.515,"y":4.66,"lo":3.72,"hi":5.6},{"p":"f4","k":"p","w":1.535,"y":1.13,"lo":-0.61,"hi":2.86},{"p":"f4","k":"p","w":1.555,"y":-0.61,"lo":-1.8,"hi":0.61},{"p":"f4","k":"p","w":1.585,"y":0.23,"lo":-0.83,"hi":1.28},{"p":"f4","k":"p","w":1.615,"y":-2.03,"lo":-3.0,"hi":-1.15},{"p":"f4","k":"p","w":1.645,"y":0.23,"lo":-0.45,"hi":0.9},{"p":"f4","k":"p","w":1.675,"y":1.76,"lo":1.24,"hi":2.32},{"p":"f4","k":"p","w":1.705,"y":-1.01,"lo":-1.69,"hi":-0.38},{"p":"f4","k":"p","w":1.745,"y":0.61,"lo":0.0,"hi":1.24},{"p":"f4","k":"p","w":1.795,"y":0.27,"lo":-0.52,"hi":1.01},{"p":"f4","k":"p","w":1.845,"y":0.63,"lo":-0.11,"hi":1.31},
{"p":"f4","k":"r","w":1.4995,"y":0.0},{"p":"f4","k":"r","w":1.529,"y":0.07},{"p":"f4","k":"r","w":1.558,"y":0.29},{"p":"f4","k":"r","w":1.588,"y":0.52},{"p":"f4","k":"r","w":1.617,"y":0.72},{"p":"f4","k":"r","w":1.636,"y":0.79},{"p":"f4","k":"r","w":1.651,"y":0.61},{"p":"f4","k":"r","w":1.665,"y":0.23},{"p":"f4","k":"r","w":1.685,"y":-0.45},{"p":"f4","k":"r","w":1.704,"y":-1.01},{"p":"f4","k":"r","w":1.724,"y":-1.35},{"p":"f4","k":"r","w":1.753,"y":-1.53},{"p":"f4","k":"r","w":1.792,"y":-1.64},{"p":"f4","k":"r","w":1.846,"y":-1.69},
{"p":"f4","k":"b","w":1.4995,"y":0.0},{"p":"f4","k":"b","w":1.539,"y":-0.05},{"p":"f4","k":"b","w":1.578,"y":-0.16},{"p":"f4","k":"b","w":1.617,"y":-0.29},{"p":"f4","k":"b","w":1.646,"y":-0.45},{"p":"f4","k":"b","w":1.665,"y":-0.79},{"p":"f4","k":"b","w":1.685,"y":-1.46},{"p":"f4","k":"b","w":1.704,"y":-1.96},{"p":"f4","k":"b","w":1.729,"y":-2.14},{"p":"f4","k":"b","w":1.763,"y":-2.18},{"p":"f4","k":"b","w":1.802,"y":-2.18},{"p":"f4","k":"b","w":1.841,"y":-2.25},{"p":"f4","k":"b","w":1.882,"y":-2.41},

{"p":"f5","k":"t","w":1.654,"y":5.02,"s":"F","b":"5"},
{"p":"f5","k":"z","y":0},
{"p":"f5","k":"p","w":1.495,"y":-2.82,"lo":-3.9,"hi":-1.76},{"p":"f5","k":"p","w":1.515,"y":4.23,"lo":2.86,"hi":5.3},{"p":"f5","k":"p","w":1.535,"y":0.34,"lo":-1.24,"hi":1.96},{"p":"f5","k":"p","w":1.555,"y":-2.86,"lo":-3.99,"hi":-1.76},{"p":"f5","k":"p","w":1.585,"y":-1.24,"lo":-2.25,"hi":-0.45},{"p":"f5","k":"p","w":1.615,"y":-0.05,"lo":-0.79,"hi":0.79},{"p":"f5","k":"p","w":1.645,"y":-0.38,"lo":-1.06,"hi":-0.07},{"p":"f5","k":"p","w":1.675,"y":-0.45,"lo":-1.01,"hi":-0.07},{"p":"f5","k":"p","w":1.705,"y":-0.95,"lo":-1.64,"hi":-0.45},
{"p":"f5","k":"r","w":1.5,"y":0.0},{"p":"f5","k":"r","w":1.583,"y":-0.07},{"p":"f5","k":"r","w":1.613,"y":-0.29},{"p":"f5","k":"r","w":1.642,"y":-0.68},{"p":"f5","k":"r","w":1.672,"y":-0.97},{"p":"f5","k":"r","w":1.706,"y":-1.01},{"p":"f5","k":"r","w":1.73,"y":-1.0},
{"p":"f5","k":"b","w":1.5,"y":0.0},{"p":"f5","k":"b","w":1.583,"y":0.05},{"p":"f5","k":"b","w":1.623,"y":0.11},{"p":"f5","k":"b","w":1.652,"y":0.23},{"p":"f5","k":"b","w":1.676,"y":0.34},{"p":"f5","k":"b","w":1.706,"y":0.11},{"p":"f5","k":"b","w":1.73,"y":0.0},

{"p":"g2","k":"t","w":1.667,"y":5.98,"s":"Σ","b":"2"},
{"p":"g2","k":"g","y":5},
{"p":"g2","k":"p","w":1.494,"y":0.82,"lo":0.6,"hi":1.04},{"p":"g2","k":"p","w":1.517,"y":3.32,"lo":3.17,"hi":3.47},{"p":"g2","k":"p","w":1.548,"y":5.27,"lo":5.15,"hi":5.39},{"p":"g2","k":"p","w":1.582,"y":5.04,"lo":4.94,"hi":5.14},{"p":"g2","k":"p","w":1.618,"y":3.61},{"p":"g2","k":"p","w":1.654,"y":2.51},{"p":"g2","k":"p","w":1.686,"y":2.3},{"p":"g2","k":"p","w":1.717,"y":2.62},{"p":"g2","k":"p","w":1.752,"y":2.75},{"p":"g2","k":"p","w":1.78,"y":2.92},{"p":"g2","k":"p","w":1.808,"y":2.75},{"p":"g2","k":"p","w":1.835,"y":2.62},{"p":"g2","k":"p","w":1.861,"y":2.41},
{"p":"g2","k":"r","w":1.494,"y":0.91},{"p":"g2","k":"r","w":1.504,"y":1.93},{"p":"g2","k":"r","w":1.517,"y":3.3},{"p":"g2","k":"r","w":1.533,"y":4.32},{"p":"g2","k":"r","w":1.548,"y":4.82},{"p":"g2","k":"r","w":1.561,"y":4.93},{"p":"g2","k":"r","w":1.575,"y":4.8},{"p":"g2","k":"r","w":1.591,"y":4.39},{"p":"g2","k":"r","w":1.606,"y":3.84},{"p":"g2","k":"r","w":1.622,"y":3.3},{"p":"g2","k":"r","w":1.638,"y":2.86},{"p":"g2","k":"r","w":1.654,"y":2.75},{"p":"g2","k":"r","w":1.675,"y":2.78},{"p":"g2","k":"r","w":1.701,"y":2.82},{"p":"g2","k":"r","w":1.727,"y":2.86},{"p":"g2","k":"r","w":1.754,"y":2.92},{"p":"g2","k":"r","w":1.78,"y":2.86},{"p":"g2","k":"r","w":1.806,"y":2.72},{"p":"g2","k":"r","w":1.827,"y":2.57},{"p":"g2","k":"r","w":1.843,"y":2.41},
{"p":"g2","k":"b","w":1.494,"y":0.98},{"p":"g2","k":"b","w":1.504,"y":2.34},{"p":"g2","k":"b","w":1.517,"y":4.11},{"p":"g2","k":"b","w":1.527,"y":5.48},{"p":"g2","k":"b","w":1.538,"y":6.3},{"p":"g2","k":"b","w":1.554,"y":6.8},{"p":"g2","k":"b","w":1.58,"y":5.95},{"p":"g2","k":"b","w":1.596,"y":5.07},{"p":"g2","k":"b","w":1.612,"y":4.25},{"p":"g2","k":"b","w":1.627,"y":3.5},{"p":"g2","k":"b","w":1.643,"y":2.86},{"p":"g2","k":"b","w":1.656,"y":2.48},{"p":"g2","k":"b","w":1.666,"y":2.34},{"p":"g2","k":"b","w":1.68,"y":2.48},{"p":"g2","k":"b","w":1.696,"y":3.02},{"p":"g2","k":"b","w":1.717,"y":3.71},{"p":"g2","k":"b","w":1.738,"y":4.01},{"p":"g2","k":"b","w":1.754,"y":3.98},{"p":"g2","k":"b","w":1.775,"y":3.77},{"p":"g2","k":"b","w":1.801,"y":3.43},{"p":"g2","k":"b","w":1.833,"y":3.16},{"p":"g2","k":"b","w":1.864,"y":2.96},{"p":"g2","k":"b","w":1.896,"y":2.92},

{"p":"g3","k":"t","w":1.667,"y":5.02,"s":"Σ","b":"3"},
{"p":"g3","k":"g","y":4},{"p":"g3","k":"z","y":0},
{"p":"g3","k":"p","w":1.496,"y":0.08,"lo":-0.38,"hi":0.48},{"p":"g3","k":"p","w":1.519,"y":0.0,"lo":-0.32,"hi":0.32},{"p":"g3","k":"p","w":1.548,"y":-0.32,"lo":-0.45,"hi":-0.2},{"p":"g3","k":"p","w":1.583,"y":-0.94,"lo":-1.12,"hi":-0.75},{"p":"g3","k":"p","w":1.619,"y":-0.86,"lo":-1.02,"hi":-0.7},{"p":"g3","k":"p","w":1.652,"y":-0.35},{"p":"g3","k":"p","w":1.687,"y":2.28},{"p":"g3","k":"p","w":1.716,"y":3.6},{"p":"g3","k":"p","w":1.751,"y":2.76,"lo":2.6,"hi":2.92},{"p":"g3","k":"p","w":1.781,"y":2.73,"lo":2.57,"hi":2.89},{"p":"g3","k":"p","w":1.809,"y":2.41,"lo":2.25,"hi":2.57},{"p":"g3","k":"p","w":1.835,"y":2.57,"lo":2.38,"hi":2.76},{"p":"g3","k":"p","w":1.86,"y":2.6,"lo":2.41,"hi":2.79},{"p":"g3","k":"p","w":1.882,"y":0.0},
{"p":"g3","k":"r","w":1.493,"y":0.1},{"p":"g3","k":"r","w":1.519,"y":0.05},{"p":"g3","k":"r","w":1.546,"y":-0.27},{"p":"g3","k":"r","w":1.566,"y":-0.67},{"p":"g3","k":"r","w":1.587,"y":-0.99},{"p":"g3","k":"r","w":1.603,"y":-1.02},{"p":"g3","k":"r","w":1.619,"y":-0.83},{"p":"g3","k":"r","w":1.635,"y":-0.27},{"p":"g3","k":"r","w":1.65,"y":0.77},{"p":"g3","k":"r","w":1.666,"y":1.72},{"p":"g3","k":"r","w":1.682,"y":2.36},{"p":"g3","k":"r","w":1.697,"y":2.92},{"p":"g3","k":"r","w":1.718,"y":3.32},{"p":"g3","k":"r","w":1.739,"y":3.51},{"p":"g3","k":"r","w":1.755,"y":3.32},{"p":"g3","k":"r","w":1.776,"y":2.92},{"p":"g3","k":"r","w":1.797,"y":2.68},{"p":"g3","k":"r","w":1.818,"y":2.52},{"p":"g3","k":"r","w":1.839,"y":2.6},
{"p":"g3","k":"b","w":1.493,"y":0.05},{"p":"g3","k":"b","w":1.519,"y":-0.06},{"p":"g3","k":"b","w":1.54,"y":-0.51},{"p":"g3","k":"b","w":1.561,"y":-1.07},{"p":"g3","k":"b","w":1.577,"y":-1.55},{"p":"g3","k":"b","w":1.59,"y":-1.95},{"p":"g3","k":"b","w":1.598,"y":-2.19},{"p":"g3","k":"b","w":1.63,"y":-3.5},{"p":"g3","k":"b","w":1.65,"y":-3.3},{"p":"g3","k":"b","w":1.661,"y":-2.11},{"p":"g3","k":"b","w":1.671,"y":-1.31},{"p":"g3","k":"b","w":1.682,"y":-0.19},{"p":"g3","k":"b","w":1.697,"y":0.93},{"p":"g3","k":"b","w":1.718,"y":1.64},{"p":"g3","k":"b","w":1.739,"y":1.85},{"p":"g3","k":"b","w":1.765,"y":1.77},{"p":"g3","k":"b","w":1.797,"y":1.64},{"p":"g3","k":"b","w":1.828,"y":1.48},{"p":"g3","k":"b","w":1.86,"y":1.44},{"p":"g3","k":"b","w":1.891,"y":1.48},

{"p":"g4","k":"t","w":1.667,"y":6.02,"s":"Σ","b":"4"},
{"p":"g4","k":"g","y":5},{"p":"g4","k":"z","y":0},
{"p":"g4","k":"p","w":1.497,"y":1.68,"lo":0.26,"hi":3.13},{"p":"g4","k":"p","w":1.519,"y":1.99,"lo":0.97,"hi":2.98},{"p":"g4","k":"p","w":1.548,"y":-0.31,"lo":-1.24,"hi":0.6},{"p":"g4","k":"p","w":1.585,"y":0.97,"lo":0.26,"hi":1.7},{"p":"g4","k":"p","w":1.619,"y":1.19,"lo":0.71,"hi":1.65},{"p":"g4","k":"p","w":1.655,"y":0.6,"lo":0.29,"hi":0.88},{"p":"g4","k":"p","w":1.688,"y":1.68,"lo":1.39,"hi":1.99},{"p":"g4","k":"p","w":1.719,"y":1.68,"lo":1.22,"hi":2.13},{"p":"g4","k":"p","w":1.753,"y":0.07,"lo":-0.43,"hi":0.6},{"p":"g4","k":"p","w":1.782,"y":0.37,"lo":-0.14,"hi":0.92},{"p":"g4","k":"p","w":1.811,"y":1.38,"lo":0.8,"hi":1.96},{"p":"g4","k":"p","w":1.837,"y":1.82,"lo":1.28,"hi":2.33},{"p":"g4","k":"p","w":1.863,"y":2.07,"lo":1.51,"hi":2.64},{"p":"g4","k":"p","w":1.884,"y":0.0},
{"p":"g4","k":"r","w":1.497,"y":0.0},{"p":"g4","k":"r","w":1.542,"y":0.03},{"p":"g4","k":"r","w":1.574,"y":0.15},{"p":"g4","k":"r","w":1.6,"y":0.2},{"p":"g4","k":"r","w":1.621,"y":0.15},{"p":"g4","k":"r","w":1.642,"y":-0.02},{"p":"g4","k":"r","w":1.658,"y":-0.14},{"p":"g4","k":"r","w":1.672,"y":-0.19},{"p":"g4","k":"r","w":1.684,"y":-0.05},{"p":"g4","k":"r","w":1.705,"y":0.32},{"p":"g4","k":"r","w":1.732,"y":0.8},{"p":"g4","k":"r","w":1.763,"y":1.39},{"p":"g4","k":"r","w":1.795,"y":2.02},{"p":"g4","k":"r","w":1.821,"y":2.59},{"p":"g4","k":"r","w":1.847,"y":3.21},
{"p":"g4","k":"b","w":1.497,"y":0.03},{"p":"g4","k":"b","w":1.532,"y":0.0},{"p":"g4","k":"b","w":1.563,"y":-0.14},{"p":"g4","k":"b","w":1.595,"y":-0.31},{"p":"g4","k":"b","w":1.621,"y":-0.39},{"p":"g4","k":"b","w":1.639,"y":-0.65},{"p":"g4","k":"b","w":1.653,"y":-0.99},{"p":"g4","k":"b","w":1.663,"y":-1.33},{"p":"g4","k":"b","w":1.668,"y":-1.58},{"p":"g4","k":"b","w":1.7,"y":-2.5},{"p":"g4","k":"b","w":1.74,"y":-2.3},{"p":"g4","k":"b","w":1.753,"y":-1.41},{"p":"g4","k":"b","w":1.774,"y":-0.9},{"p":"g4","k":"b","w":1.8,"y":-0.39},{"p":"g4","k":"b","w":1.826,"y":0.03},{"p":"g4","k":"b","w":1.858,"y":0.32},{"p":"g4","k":"b","w":1.889,"y":0.46},{"p":"g4","k":"b","w":1.908,"y":0.49},

{"p":"g5","k":"t","w":1.667,"y":6.02,"s":"Σ","b":"5"},
{"p":"g5","k":"g","y":5},{"p":"g5","k":"z","y":0},
{"p":"g5","k":"p","w":1.497,"y":0.32,"lo":-0.7,"hi":1.34},{"p":"g5","k":"p","w":1.52,"y":1.22,"lo":0.63,"hi":1.85},{"p":"g5","k":"p","w":1.549,"y":0.07,"lo":-0.53,"hi":0.63},{"p":"g5","k":"p","w":1.585,"y":1.85,"lo":1.31,"hi":2.45},{"p":"g5","k":"p","w":1.621,"y":0.54,"lo":0.26,"hi":0.8},{"p":"g5","k":"p","w":1.655,"y":0.12,"lo":-0.09,"hi":0.32},{"p":"g5","k":"p","w":1.689,"y":-0.26,"lo":-0.48,"hi":-0.05},{"p":"g5","k":"p","w":1.718,"y":0.0,"lo":-0.39,"hi":0.37},
{"p":"g5","k":"r","w":1.497,"y":0.0},{"p":"g5","k":"r","w":1.549,"y":0.0},{"p":"g5","k":"r","w":1.581,"y":-0.14},{"p":"g5","k":"r","w":1.613,"y":-0.48},{"p":"g5","k":"r","w":1.639,"y":-0.77},{"p":"g5","k":"r","w":1.66,"y":-0.9},{"p":"g5","k":"r","w":1.681,"y":-0.77},{"p":"g5","k":"r","w":1.707,"y":-0.39},{"p":"g5","k":"r","w":1.728,"y":-0.14},
{"p":"g5","k":"b","w":1.497,"y":0.0},{"p":"g5","k":"b","w":1.56,"y":0.03},{"p":"g5","k":"b","w":1.602,"y":0.15},{"p":"g5","k":"b","w":1.644,"y":0.32},{"p":"g5","k":"b","w":1.67,"y":0.46},{"p":"g5","k":"b","w":1.697,"y":0.37},{"p":"g5","k":"b","w":1.728,"y":0.2}
]},
"columns":6,
"spacing":{"row":15,"column":15.3},
"bounds":"flush",
"concat":[
{"width":136,"height":148,"transform":[{"filter":"datum.p=='s0'"}],"resolve":{"axis":{"x":"independent","y":"independent"}},"encoding":{"y":{"field":"y","type":"quantitative","scale":{"domain":[0,6.85],"nice":false,"zero":false},"axis":null}},"layer":[
{"transform":[{"filter":"datum.k=='g'"}],"mark":{"type":"rule","color":"#222","strokeWidth":0.9,"strokeDash":[2,2.5]}},{"transform":[{"filter":"datum.k=='z'"}],"mark":{"type":"rule","color":"#666","strokeWidth":1.2}},{"transform":[{"filter":"datum.k=='t'"}],"mark":{"type":"text","align":"left","baseline":"alphabetic","dy":18.7,"fontSize":17,"color":"#0000ff"},"encoding":{"x":{"field":"w","type":"quantitative","axis":null},"text":{"value":"A"}}},{"transform":[{"filter":"datum.k=='t'"}],"mark":{"type":"text","align":"left","baseline":"alphabetic","dx":11.3,"dy":11.5,"fontSize":12,"color":"#0000ff"},"encoding":{"x":{"field":"w","type":"quantitative","axis":null},"text":{"field":"s"}}},{"transform":[{"filter":"datum.k=='t'"}],"mark":{"type":"text","align":"left","baseline":"alphabetic","dx":11.3,"dy":25,"fontSize":12,"color":"#0000ff"},"encoding":{"x":{"field":"w","type":"quantitative","axis":null},"text":{"field":"b"}}},{"transform":[{"filter":"datum.k=='r'"}],"mark":{"type":"line","color":"#ff0000","strokeWidth":2.3,"clip":true},"encoding":{"x":{"field":"w","type":"quantitative","axis":null}}},{"transform":[{"filter":"datum.k=='b'"}],"mark":{"type":"line","color":"#0000ff","strokeWidth":2.3,"clip":true},"encoding":{"x":{"field":"w","type":"quantitative","axis":null}}},{"transform":[{"filter":"datum.k=='p'&&isValid(datum.lo)"}],"mark":{"type":"rule","color":"#000","strokeWidth":1.3,"clip":true},"encoding":{"x":{"field":"w","type":"quantitative","axis":null},"y":{"field":"lo","type":"quantitative","axis":null},"y2":{"field":"hi"}}},{"transform":[{"filter":"datum.k=='p'&&isValid(datum.lo)"}],"mark":{"type":"tick","orient":"horizontal","size":6,"thickness":1.3,"color":"#000","clip":true},"encoding":{"x":{"field":"w","type":"quantitative","axis":null},"y":{"field":"lo","type":"quantitative","axis":null}}},{"transform":[{"filter":"datum.k=='p'&&isValid(datum.lo)"}],"mark":{"type":"tick","orient":"horizontal","size":6,"thickness":1.3,"color":"#000","clip":true},"encoding":{"x":{"field":"w","type":"quantitative","axis":null},"y":{"field":"hi","type":"quantitative","axis":null}}},
{"transform":[{"filter":"datum.k=='p'"}],"mark":{"type":"point","opacity":0},"encoding":{"x":{"field":"w","type":"quantitative","axis":{"orient":"top","values":[1.5,1.55,1.6,1.65,1.7,1.75,1.8,1.85],"labels":false,"title":null}},"y":{"field":"y","type":"quantitative","axis":{"orient":"right","values":[0,1,2,3,4,5,6],"labels":false,"title":null}}}},
{"transform":[{"filter":"datum.k=='p'"}],"mark":{"type":"circle","size":30,"color":"#000","opacity":1},"encoding":{"y":{"field":"y","type":"quantitative","axis":{"values":[0,1,2,3,4,5,6],"title":null,"labelExpr":"datum.value==0?'0':''","labelBaseline":"middle","labelPadding":3}},"x":{"field":"w","type":"quantitative","scale":{"domain":[1.478,1.882],"nice":false,"zero":false},"axis":{"values":[1.5,1.55,1.6,1.65,1.7,1.75,1.8,1.85],"title":null,"labelExpr":"(abs(datum.value-1.6)<0.001||abs(datum.value-1.8)<0.001)?format(datum.value,'.1f'):''","grid":true,"gridDash":[2,2.5],"gridColor":"#222","gridWidth":0.9,"gridOpacity":{"condition":{"test":"abs(datum.value-1.6)<0.001||abs(datum.value-1.8)<0.001","value":1},"value":0}}}}}
]},
{"width":136,"height":148,"transform":[{"filter":"datum.p=='s1'"}],"resolve":{"axis":{"x":"independent","y":"independent"}},"encoding":{"y":{"field":"y","type":"quantitative","scale":{"domain":[-5.02,5.09],"nice":false,"zero":false},"axis":null}},"layer":[
{"transform":[{"filter":"datum.k=='g'"}],"mark":{"type":"rule","color":"#222","strokeWidth":0.9,"strokeDash":[2,2.5]}},{"transform":[{"filter":"datum.k=='z'"}],"mark":{"type":"rule","color":"#666","strokeWidth":1.2}},{"transform":[{"filter":"datum.k=='t'"}],"mark":{"type":"text","align":"left","baseline":"alphabetic","dy":18.7,"fontSize":17,"color":"#0000ff"},"encoding":{"x":{"field":"w","type":"quantitative","axis":null},"text":{"value":"A"}}},{"transform":[{"filter":"datum.k=='t'"}],"mark":{"type":"text","align":"left","baseline":"alphabetic","dx":11.3,"dy":11.5,"fontSize":12,"color":"#0000ff"},"encoding":{"x":{"field":"w","type":"quantitative","axis":null},"text":{"field":"s"}}},{"transform":[{"filter":"datum.k=='t'"}],"mark":{"type":"text","align":"left","baseline":"alphabetic","dx":11.3,"dy":25,"fontSize":12,"color":"#0000ff"},"encoding":{"x":{"field":"w","type":"quantitative","axis":null},"text":{"field":"b"}}},{"transform":[{"filter":"datum.k=='r'"}],"mark":{"type":"line","color":"#ff0000","strokeWidth":2.3,"clip":true},"encoding":{"x":{"field":"w","type":"quantitative","axis":null}}},{"transform":[{"filter":"datum.k=='b'"}],"mark":{"type":"line","color":"#0000ff","strokeWidth":2.3,"clip":true},"encoding":{"x":{"field":"w","type":"quantitative","axis":null}}},{"transform":[{"filter":"datum.k=='p'&&isValid(datum.lo)"}],"mark":{"type":"rule","color":"#000","strokeWidth":1.3,"clip":true},"encoding":{"x":{"field":"w","type":"quantitative","axis":null},"y":{"field":"lo","type":"quantitative","axis":null},"y2":{"field":"hi"}}},{"transform":[{"filter":"datum.k=='p'&&isValid(datum.lo)"}],"mark":{"type":"tick","orient":"horizontal","size":6,"thickness":1.3,"color":"#000","clip":true},"encoding":{"x":{"field":"w","type":"quantitative","axis":null},"y":{"field":"lo","type":"quantitative","axis":null}}},{"transform":[{"filter":"datum.k=='p'&&isValid(datum.lo)"}],"mark":{"type":"tick","orient":"horizontal","size":6,"thickness":1.3,"color":"#000","clip":true},"encoding":{"x":{"field":"w","type":"quantitative","axis":null},"y":{"field":"hi","type":"quantitative","axis":null}}},
{"transform":[{"filter":"datum.k=='p'"}],"mark":{"type":"point","opacity":0},"encoding":{"x":{"field":"w","type":"quantitative","axis":{"orient":"top","values":[1.5,1.55,1.6,1.65,1.7,1.75,1.8,1.85],"labels":false,"title":null}},"y":{"field":"y","type":"quantitative","axis":{"orient":"right","values":[-5,-4,-3,-2,-1,0,1,2,3,4,5],"labels":false,"title":null}}}},
{"transform":[{"filter":"datum.k=='p'"}],"mark":{"type":"circle","size":30,"color":"#000","opacity":1},"encoding":{"y":{"field":"y","type":"quantitative","axis":{"values":[-5,-4,-3,-2,-1,0,1,2,3,4,5],"labels":false,"title":null}},"x":{"field":"w","type":"quantitative","scale":{"domain":[1.478,1.882],"nice":false,"zero":false},"axis":{"values":[1.5,1.55,1.6,1.65,1.7,1.75,1.8,1.85],"title":null,"labelExpr":"(abs(datum.value-1.6)<0.001||abs(datum.value-1.8)<0.001)?format(datum.value,'.1f'):''","grid":true,"gridDash":[2,2.5],"gridColor":"#222","gridWidth":0.9,"gridOpacity":{"condition":{"test":"abs(datum.value-1.6)<0.001||abs(datum.value-1.8)<0.001","value":1},"value":0}}}}}
]},
{"width":136,"height":148,"transform":[{"filter":"datum.p=='s2'"}],"resolve":{"axis":{"x":"independent","y":"independent"}},"encoding":{"y":{"field":"y","type":"quantitative","scale":{"domain":[-8.57,1.55],"nice":false,"zero":false},"axis":null}},"layer":[
{"transform":[{"filter":"datum.k=='g'"}],"mark":{"type":"rule","color":"#222","strokeWidth":0.9,"strokeDash":[2,2.5]}},{"transform":[{"filter":"datum.k=='z'"}],"mark":{"type":"rule","color":"#666","strokeWidth":1.2}},{"transform":[{"filter":"datum.k=='t'"}],"mark":{"type":"text","align":"left","baseline":"alphabetic","dy":18.7,"fontSize":17,"color":"#0000ff"},"encoding":{"x":{"field":"w","type":"quantitative","axis":null},"text":{"value":"A"}}},{"transform":[{"filter":"datum.k=='t'"}],"mark":{"type":"text","align":"left","baseline":"alphabetic","dx":11.3,"dy":11.5,"fontSize":12,"color":"#0000ff"},"encoding":{"x":{"field":"w","type":"quantitative","axis":null},"text":{"field":"s"}}},{"transform":[{"filter":"datum.k=='t'"}],"mark":{"type":"text","align":"left","baseline":"alphabetic","dx":11.3,"dy":25,"fontSize":12,"color":"#0000ff"},"encoding":{"x":{"field":"w","type":"quantitative","axis":null},"text":{"field":"b"}}},{"transform":[{"filter":"datum.k=='r'"}],"mark":{"type":"line","color":"#ff0000","strokeWidth":2.3,"clip":true},"encoding":{"x":{"field":"w","type":"quantitative","axis":null}}},{"transform":[{"filter":"datum.k=='b'"}],"mark":{"type":"line","color":"#0000ff","strokeWidth":2.3,"clip":true},"encoding":{"x":{"field":"w","type":"quantitative","axis":null}}},{"transform":[{"filter":"datum.k=='p'&&isValid(datum.lo)"}],"mark":{"type":"rule","color":"#000","strokeWidth":1.3,"clip":true},"encoding":{"x":{"field":"w","type":"quantitative","axis":null},"y":{"field":"lo","type":"quantitative","axis":null},"y2":{"field":"hi"}}},{"transform":[{"filter":"datum.k=='p'&&isValid(datum.lo)"}],"mark":{"type":"tick","orient":"horizontal","size":6,"thickness":1.3,"color":"#000","clip":true},"encoding":{"x":{"field":"w","type":"quantitative","axis":null},"y":{"field":"lo","type":"quantitative","axis":null}}},{"transform":[{"filter":"datum.k=='p'&&isValid(datum.lo)"}],"mark":{"type":"tick","orient":"horizontal","size":6,"thickness":1.3,"color":"#000","clip":true},"encoding":{"x":{"field":"w","type":"quantitative","axis":null},"y":{"field":"hi","type":"quantitative","axis":null}}},
{"transform":[{"filter":"datum.k=='p'"}],"mark":{"type":"point","opacity":0},"encoding":{"x":{"field":"w","type":"quantitative","axis":{"orient":"top","values":[1.5,1.55,1.6,1.65,1.7,1.75,1.8,1.85],"labels":false,"title":null}},"y":{"field":"y","type":"quantitative","axis":{"orient":"right","values":[1.45,0.45,-0.55,-1.55,-2.55,-3.55,-4.55,-5.55,-6.55,-7.55],"labels":false,"title":null}}}},
{"transform":[{"filter":"datum.k=='p'"}],"mark":{"type":"circle","size":30,"color":"#000","opacity":1},"encoding":{"y":{"field":"y","type":"quantitative","axis":{"values":[1.45,0.45,-0.55,-1.55,-2.55,-3.55,-4.55,-5.55,-6.55,-7.55],"labels":false,"title":null}},"x":{"field":"w","type":"quantitative","scale":{"domain":[1.478,1.882],"nice":false,"zero":false},"axis":{"values":[1.5,1.55,1.6,1.65,1.7,1.75,1.8,1.85],"title":null,"labelExpr":"(abs(datum.value-1.6)<0.001||abs(datum.value-1.8)<0.001)?format(datum.value,'.1f'):''","grid":true,"gridDash":[2,2.5],"gridColor":"#222","gridWidth":0.9,"gridOpacity":{"condition":{"test":"abs(datum.value-1.6)<0.001||abs(datum.value-1.8)<0.001","value":1},"value":0}}}}}
]},
{"width":136,"height":148,"transform":[{"filter":"datum.p=='s3'"}],"resolve":{"axis":{"x":"independent","y":"independent"}},"encoding":{"y":{"field":"y","type":"quantitative","scale":{"domain":[-5.02,5.09],"nice":false,"zero":false},"axis":null}},"layer":[
{"transform":[{"filter":"datum.k=='g'"}],"mark":{"type":"rule","color":"#222","strokeWidth":0.9,"strokeDash":[2,2.5]}},{"transform":[{"filter":"datum.k=='z'"}],"mark":{"type":"rule","color":"#666","strokeWidth":1.2}},{"transform":[{"filter":"datum.k=='t'"}],"mark":{"type":"text","align":"left","baseline":"alphabetic","dy":18.7,"fontSize":17,"color":"#0000ff"},"encoding":{"x":{"field":"w","type":"quantitative","axis":null},"text":{"value":"A"}}},{"transform":[{"filter":"datum.k=='t'"}],"mark":{"type":"text","align":"left","baseline":"alphabetic","dx":11.3,"dy":11.5,"fontSize":12,"color":"#0000ff"},"encoding":{"x":{"field":"w","type":"quantitative","axis":null},"text":{"field":"s"}}},{"transform":[{"filter":"datum.k=='t'"}],"mark":{"type":"text","align":"left","baseline":"alphabetic","dx":11.3,"dy":25,"fontSize":12,"color":"#0000ff"},"encoding":{"x":{"field":"w","type":"quantitative","axis":null},"text":{"field":"b"}}},{"transform":[{"filter":"datum.k=='r'"}],"mark":{"type":"line","color":"#ff0000","strokeWidth":2.3,"clip":true},"encoding":{"x":{"field":"w","type":"quantitative","axis":null}}},{"transform":[{"filter":"datum.k=='b'"}],"mark":{"type":"line","color":"#0000ff","strokeWidth":2.3,"clip":true},"encoding":{"x":{"field":"w","type":"quantitative","axis":null}}},{"transform":[{"filter":"datum.k=='p'&&isValid(datum.lo)"}],"mark":{"type":"rule","color":"#000","strokeWidth":1.3,"clip":true},"encoding":{"x":{"field":"w","type":"quantitative","axis":null},"y":{"field":"lo","type":"quantitative","axis":null},"y2":{"field":"hi"}}},{"transform":[{"filter":"datum.k=='p'&&isValid(datum.lo)"}],"mark":{"type":"tick","orient":"horizontal","size":6,"thickness":1.3,"color":"#000","clip":true},"encoding":{"x":{"field":"w","type":"quantitative","axis":null},"y":{"field":"lo","type":"quantitative","axis":null}}},{"transform":[{"filter":"datum.k=='p'&&isValid(datum.lo)"}],"mark":{"type":"tick","orient":"horizontal","size":6,"thickness":1.3,"color":"#000","clip":true},"encoding":{"x":{"field":"w","type":"quantitative","axis":null},"y":{"field":"hi","type":"quantitative","axis":null}}},
{"transform":[{"filter":"datum.k=='p'"}],"mark":{"type":"point","opacity":0},"encoding":{"x":{"field":"w","type":"quantitative","axis":{"orient":"top","values":[1.5,1.55,1.6,1.65,1.7,1.75,1.8,1.85],"labels":false,"title":null}},"y":{"field":"y","type":"quantitative","axis":{"orient":"right","values":[-5,-4,-3,-2,-1,0,1,2,3,4,5],"labels":false,"title":null}}}},
{"transform":[{"filter":"datum.k=='p'"}],"mark":{"type":"circle","size":30,"color":"#000","opacity":1},"encoding":{"y":{"field":"y","type":"quantitative","axis":{"values":[-5,-4,-3,-2,-1,0,1,2,3,4,5],"labels":false,"title":null}},"x":{"field":"w","type":"quantitative","scale":{"domain":[1.478,1.882],"nice":false,"zero":false},"axis":{"values":[1.5,1.55,1.6,1.65,1.7,1.75,1.8,1.85],"title":null,"labelExpr":"(abs(datum.value-1.6)<0.001||abs(datum.value-1.8)<0.001)?format(datum.value,'.1f'):''","grid":true,"gridDash":[2,2.5],"gridColor":"#222","gridWidth":0.9,"gridOpacity":{"condition":{"test":"abs(datum.value-1.6)<0.001||abs(datum.value-1.8)<0.001","value":1},"value":0}}}}}
]},
{"width":136,"height":148,"transform":[{"filter":"datum.p=='s4'"}],"resolve":{"axis":{"x":"independent","y":"independent"}},"encoding":{"y":{"field":"y","type":"quantitative","scale":{"domain":[-5.02,5.05],"nice":false,"zero":false},"axis":null}},"layer":[
{"transform":[{"filter":"datum.k=='g'"}],"mark":{"type":"rule","color":"#222","strokeWidth":0.9,"strokeDash":[2,2.5]}},{"transform":[{"filter":"datum.k=='z'"}],"mark":{"type":"rule","color":"#666","strokeWidth":1.2}},{"transform":[{"filter":"datum.k=='t'"}],"mark":{"type":"text","align":"left","baseline":"alphabetic","dy":18.7,"fontSize":17,"color":"#0000ff"},"encoding":{"x":{"field":"w","type":"quantitative","axis":null},"text":{"value":"A"}}},{"transform":[{"filter":"datum.k=='t'"}],"mark":{"type":"text","align":"left","baseline":"alphabetic","dx":11.3,"dy":11.5,"fontSize":12,"color":"#0000ff"},"encoding":{"x":{"field":"w","type":"quantitative","axis":null},"text":{"field":"s"}}},{"transform":[{"filter":"datum.k=='t'"}],"mark":{"type":"text","align":"left","baseline":"alphabetic","dx":11.3,"dy":25,"fontSize":12,"color":"#0000ff"},"encoding":{"x":{"field":"w","type":"quantitative","axis":null},"text":{"field":"b"}}},{"transform":[{"filter":"datum.k=='r'"}],"mark":{"type":"line","color":"#ff0000","strokeWidth":2.3,"clip":true},"encoding":{"x":{"field":"w","type":"quantitative","axis":null}}},{"transform":[{"filter":"datum.k=='b'"}],"mark":{"type":"line","color":"#0000ff","strokeWidth":2.3,"clip":true},"encoding":{"x":{"field":"w","type":"quantitative","axis":null}}},{"transform":[{"filter":"datum.k=='p'&&isValid(datum.lo)"}],"mark":{"type":"rule","color":"#000","strokeWidth":1.3,"clip":true},"encoding":{"x":{"field":"w","type":"quantitative","axis":null},"y":{"field":"lo","type":"quantitative","axis":null},"y2":{"field":"hi"}}},{"transform":[{"filter":"datum.k=='p'&&isValid(datum.lo)"}],"mark":{"type":"tick","orient":"horizontal","size":6,"thickness":1.3,"color":"#000","clip":true},"encoding":{"x":{"field":"w","type":"quantitative","axis":null},"y":{"field":"lo","type":"quantitative","axis":null}}},{"transform":[{"filter":"datum.k=='p'&&isValid(datum.lo)"}],"mark":{"type":"tick","orient":"horizontal","size":6,"thickness":1.3,"color":"#000","clip":true},"encoding":{"x":{"field":"w","type":"quantitative","axis":null},"y":{"field":"hi","type":"quantitative","axis":null}}},
{"transform":[{"filter":"datum.k=='p'"}],"mark":{"type":"point","opacity":0},"encoding":{"x":{"field":"w","type":"quantitative","axis":{"orient":"top","values":[1.5,1.55,1.6,1.65,1.7,1.75,1.8,1.85],"labels":false,"title":null}},"y":{"field":"y","type":"quantitative","axis":{"orient":"right","values":[-5,-4,-3,-2,-1,0,1,2,3,4,5],"labels":false,"title":null}}}},
{"transform":[{"filter":"datum.k=='p'"}],"mark":{"type":"circle","size":30,"color":"#000","opacity":1},"encoding":{"y":{"field":"y","type":"quantitative","axis":{"values":[-5,-4,-3,-2,-1,0,1,2,3,4,5],"labels":false,"title":null}},"x":{"field":"w","type":"quantitative","scale":{"domain":[1.478,1.882],"nice":false,"zero":false},"axis":{"values":[1.5,1.55,1.6,1.65,1.7,1.75,1.8,1.85],"title":null,"labelExpr":"(abs(datum.value-1.6)<0.001||abs(datum.value-1.8)<0.001)?format(datum.value,'.1f'):''","grid":true,"gridDash":[2,2.5],"gridColor":"#222","gridWidth":0.9,"gridOpacity":{"condition":{"test":"abs(datum.value-1.6)<0.001||abs(datum.value-1.8)<0.001","value":1},"value":0}}}}}
]},
{"width":136,"height":148,"transform":[{"filter":"datum.p=='s5'"}],"resolve":{"axis":{"x":"independent","y":"independent"}},"encoding":{"y":{"field":"y","type":"quantitative","scale":{"domain":[-5.05,5.07],"nice":false,"zero":false},"axis":null}},"layer":[
{"transform":[{"filter":"datum.k=='g'"}],"mark":{"type":"rule","color":"#222","strokeWidth":0.9,"strokeDash":[2,2.5]}},{"transform":[{"filter":"datum.k=='z'"}],"mark":{"type":"rule","color":"#666","strokeWidth":1.2}},{"transform":[{"filter":"datum.k=='t'"}],"mark":{"type":"text","align":"left","baseline":"alphabetic","dy":18.7,"fontSize":17,"color":"#0000ff"},"encoding":{"x":{"field":"w","type":"quantitative","axis":null},"text":{"value":"A"}}},{"transform":[{"filter":"datum.k=='t'"}],"mark":{"type":"text","align":"left","baseline":"alphabetic","dx":11.3,"dy":11.5,"fontSize":12,"color":"#0000ff"},"encoding":{"x":{"field":"w","type":"quantitative","axis":null},"text":{"field":"s"}}},{"transform":[{"filter":"datum.k=='t'"}],"mark":{"type":"text","align":"left","baseline":"alphabetic","dx":11.3,"dy":25,"fontSize":12,"color":"#0000ff"},"encoding":{"x":{"field":"w","type":"quantitative","axis":null},"text":{"field":"b"}}},{"transform":[{"filter":"datum.k=='r'"}],"mark":{"type":"line","color":"#ff0000","strokeWidth":2.3,"clip":true},"encoding":{"x":{"field":"w","type":"quantitative","axis":null}}},{"transform":[{"filter":"datum.k=='b'"}],"mark":{"type":"line","color":"#0000ff","strokeWidth":2.3,"clip":true},"encoding":{"x":{"field":"w","type":"quantitative","axis":null}}},{"transform":[{"filter":"datum.k=='p'&&isValid(datum.lo)"}],"mark":{"type":"rule","color":"#000","strokeWidth":1.3,"clip":true},"encoding":{"x":{"field":"w","type":"quantitative","axis":null},"y":{"field":"lo","type":"quantitative","axis":null},"y2":{"field":"hi"}}},{"transform":[{"filter":"datum.k=='p'&&isValid(datum.lo)"}],"mark":{"type":"tick","orient":"horizontal","size":6,"thickness":1.3,"color":"#000","clip":true},"encoding":{"x":{"field":"w","type":"quantitative","axis":null},"y":{"field":"lo","type":"quantitative","axis":null}}},{"transform":[{"filter":"datum.k=='p'&&isValid(datum.lo)"}],"mark":{"type":"tick","orient":"horizontal","size":6,"thickness":1.3,"color":"#000","clip":true},"encoding":{"x":{"field":"w","type":"quantitative","axis":null},"y":{"field":"hi","type":"quantitative","axis":null}}},
{"transform":[{"filter":"datum.k=='p'"}],"mark":{"type":"point","opacity":0},"encoding":{"x":{"field":"w","type":"quantitative","axis":{"orient":"top","values":[1.5,1.55,1.6,1.65,1.7],"labels":false,"title":null}},"y":{"field":"y","type":"quantitative","axis":{"orient":"right","values":[-5,-4,-3,-2,-1,0,1,2,3,4,5],"labels":false,"title":null}}}},
{"transform":[{"filter":"datum.k=='p'"}],"mark":{"type":"circle","size":30,"color":"#000","opacity":1},"encoding":{"y":{"field":"y","type":"quantitative","axis":{"values":[-5,-4,-3,-2,-1,0,1,2,3,4,5],"labels":false,"title":null}},"x":{"field":"w","type":"quantitative","scale":{"domain":[1.478,1.882],"nice":false,"zero":false},"axis":{"values":[1.5,1.55,1.6,1.65,1.7,1.75,1.8,1.85],"title":null,"labelExpr":"abs(datum.value-1.6)<0.001?'1.6':''","grid":true,"gridDash":[2,2.5],"gridColor":"#222","gridWidth":0.9,"gridOpacity":{"condition":{"test":"abs(datum.value-1.6)<0.001||abs(datum.value-1.8)<0.001","value":1},"value":0}}}}}
]},
{"width":136,"height":148,"data":{"values":[]},"mark":{"type":"point","opacity":0},"view":{"stroke":null}},
{"width":136,"height":148,"transform":[{"filter":"datum.p=='t1'"}],"resolve":{"axis":{"x":"independent","y":"independent"}},"encoding":{"y":{"field":"y","type":"quantitative","scale":{"domain":[-7.76,1.79],"nice":false,"zero":false},"axis":null}},"layer":[
{"transform":[{"filter":"datum.k=='g'"}],"mark":{"type":"rule","color":"#222","strokeWidth":0.9,"strokeDash":[2,2.5]}},{"transform":[{"filter":"datum.k=='z'"}],"mark":{"type":"rule","color":"#666","strokeWidth":1.2}},{"transform":[{"filter":"datum.k=='t'"}],"mark":{"type":"text","align":"left","baseline":"alphabetic","dy":18.7,"fontSize":17,"color":"#0000ff"},"encoding":{"x":{"field":"w","type":"quantitative","axis":null},"text":{"value":"A"}}},{"transform":[{"filter":"datum.k=='t'"}],"mark":{"type":"text","align":"left","baseline":"alphabetic","dx":11.3,"dy":11.5,"fontSize":12,"color":"#0000ff"},"encoding":{"x":{"field":"w","type":"quantitative","axis":null},"text":{"field":"s"}}},{"transform":[{"filter":"datum.k=='t'"}],"mark":{"type":"text","align":"left","baseline":"alphabetic","dx":11.3,"dy":25,"fontSize":12,"color":"#0000ff"},"encoding":{"x":{"field":"w","type":"quantitative","axis":null},"text":{"field":"b"}}},{"transform":[{"filter":"datum.k=='r'"}],"mark":{"type":"line","color":"#ff0000","strokeWidth":2.3,"clip":true},"encoding":{"x":{"field":"w","type":"quantitative","axis":null}}},{"transform":[{"filter":"datum.k=='b'"}],"mark":{"type":"line","color":"#0000ff","strokeWidth":2.3,"clip":true},"encoding":{"x":{"field":"w","type":"quantitative","axis":null}}},{"transform":[{"filter":"datum.k=='p'&&isValid(datum.lo)"}],"mark":{"type":"rule","color":"#000","strokeWidth":1.3,"clip":true},"encoding":{"x":{"field":"w","type":"quantitative","axis":null},"y":{"field":"lo","type":"quantitative","axis":null},"y2":{"field":"hi"}}},{"transform":[{"filter":"datum.k=='p'&&isValid(datum.lo)"}],"mark":{"type":"tick","orient":"horizontal","size":6,"thickness":1.3,"color":"#000","clip":true},"encoding":{"x":{"field":"w","type":"quantitative","axis":null},"y":{"field":"lo","type":"quantitative","axis":null}}},{"transform":[{"filter":"datum.k=='p'&&isValid(datum.lo)"}],"mark":{"type":"tick","orient":"horizontal","size":6,"thickness":1.3,"color":"#000","clip":true},"encoding":{"x":{"field":"w","type":"quantitative","axis":null},"y":{"field":"hi","type":"quantitative","axis":null}}},
{"transform":[{"filter":"datum.k=='p'"}],"mark":{"type":"point","opacity":0},"encoding":{"x":{"field":"w","type":"quantitative","axis":{"orient":"top","values":[1.5,1.55,1.6,1.65,1.7,1.75,1.8,1.85],"labels":false,"title":null}},"y":{"field":"y","type":"quantitative","axis":{"orient":"right","values":[1,0,-1,-2,-3,-4,-5,-6,-7],"labels":false,"title":null}}}},
{"transform":[{"filter":"datum.k=='p'"}],"mark":{"type":"circle","size":30,"color":"#000","opacity":1},"encoding":{"y":{"field":"y","type":"quantitative","axis":{"values":[1,0,-1,-2,-3,-4,-5,-6,-7],"labels":false,"title":null}},"x":{"field":"w","type":"quantitative","scale":{"domain":[1.478,1.882],"nice":false,"zero":false},"axis":{"values":[1.5,1.55,1.6,1.65,1.7,1.75,1.8,1.85],"title":null,"labelExpr":"(abs(datum.value-1.6)<0.001||abs(datum.value-1.8)<0.001)?format(datum.value,'.1f'):''","grid":true,"gridDash":[2,2.5],"gridColor":"#222","gridWidth":0.9,"gridOpacity":{"condition":{"test":"abs(datum.value-1.6)<0.001||abs(datum.value-1.8)<0.001","value":1},"value":0}}}}}
]},
{"width":136,"height":148,"transform":[{"filter":"datum.p=='t2'"}],"resolve":{"axis":{"x":"independent","y":"independent"}},"encoding":{"y":{"field":"y","type":"quantitative","scale":{"domain":[-2.53,7.04],"nice":false,"zero":false},"axis":null}},"layer":[
{"transform":[{"filter":"datum.k=='g'"}],"mark":{"type":"rule","color":"#222","strokeWidth":0.9,"strokeDash":[2,2.5]}},{"transform":[{"filter":"datum.k=='z'"}],"mark":{"type":"rule","color":"#666","strokeWidth":1.2}},{"transform":[{"filter":"datum.k=='t'"}],"mark":{"type":"text","align":"left","baseline":"alphabetic","dy":18.7,"fontSize":17,"color":"#0000ff"},"encoding":{"x":{"field":"w","type":"quantitative","axis":null},"text":{"value":"A"}}},{"transform":[{"filter":"datum.k=='t'"}],"mark":{"type":"text","align":"left","baseline":"alphabetic","dx":11.3,"dy":11.5,"fontSize":12,"color":"#0000ff"},"encoding":{"x":{"field":"w","type":"quantitative","axis":null},"text":{"field":"s"}}},{"transform":[{"filter":"datum.k=='t'"}],"mark":{"type":"text","align":"left","baseline":"alphabetic","dx":11.3,"dy":25,"fontSize":12,"color":"#0000ff"},"encoding":{"x":{"field":"w","type":"quantitative","axis":null},"text":{"field":"b"}}},{"transform":[{"filter":"datum.k=='r'"}],"mark":{"type":"line","color":"#ff0000","strokeWidth":2.3,"clip":true},"encoding":{"x":{"field":"w","type":"quantitative","axis":null}}},{"transform":[{"filter":"datum.k=='b'"}],"mark":{"type":"line","color":"#0000ff","strokeWidth":2.3,"clip":true},"encoding":{"x":{"field":"w","type":"quantitative","axis":null}}},{"transform":[{"filter":"datum.k=='p'&&isValid(datum.lo)"}],"mark":{"type":"rule","color":"#000","strokeWidth":1.3,"clip":true},"encoding":{"x":{"field":"w","type":"quantitative","axis":null},"y":{"field":"lo","type":"quantitative","axis":null},"y2":{"field":"hi"}}},{"transform":[{"filter":"datum.k=='p'&&isValid(datum.lo)"}],"mark":{"type":"tick","orient":"horizontal","size":6,"thickness":1.3,"color":"#000","clip":true},"encoding":{"x":{"field":"w","type":"quantitative","axis":null},"y":{"field":"lo","type":"quantitative","axis":null}}},{"transform":[{"filter":"datum.k=='p'&&isValid(datum.lo)"}],"mark":{"type":"tick","orient":"horizontal","size":6,"thickness":1.3,"color":"#000","clip":true},"encoding":{"x":{"field":"w","type":"quantitative","axis":null},"y":{"field":"hi","type":"quantitative","axis":null}}},
{"transform":[{"filter":"datum.k=='p'"}],"mark":{"type":"point","opacity":0},"encoding":{"x":{"field":"w","type":"quantitative","axis":{"orient":"top","values":[1.5,1.55,1.6,1.65,1.7,1.75,1.8,1.85],"labels":false,"title":null}},"y":{"field":"y","type":"quantitative","axis":{"orient":"right","values":[-2,-1,0,1,2,3,4,5,6,7],"labels":false,"title":null}}}},
{"transform":[{"filter":"datum.k=='p'"}],"mark":{"type":"circle","size":30,"color":"#000","opacity":1},"encoding":{"y":{"field":"y","type":"quantitative","axis":{"values":[-2,-1,0,1,2,3,4,5,6,7],"labels":false,"title":null}},"x":{"field":"w","type":"quantitative","scale":{"domain":[1.478,1.882],"nice":false,"zero":false},"axis":{"values":[1.5,1.55,1.6,1.65,1.7,1.75,1.8,1.85],"title":null,"labelExpr":"(abs(datum.value-1.6)<0.001||abs(datum.value-1.8)<0.001)?format(datum.value,'.1f'):''","grid":true,"gridDash":[2,2.5],"gridColor":"#222","gridWidth":0.9,"gridOpacity":{"condition":{"test":"abs(datum.value-1.6)<0.001||abs(datum.value-1.8)<0.001","value":1},"value":0}}}}}
]},
{"width":136,"height":148,"transform":[{"filter":"datum.p=='t3'"}],"resolve":{"axis":{"x":"independent","y":"independent"}},"encoding":{"y":{"field":"y","type":"quantitative","scale":{"domain":[-4.94,5.01],"nice":false,"zero":false},"axis":null}},"layer":[
{"transform":[{"filter":"datum.k=='g'"}],"mark":{"type":"rule","color":"#222","strokeWidth":0.9,"strokeDash":[2,2.5]}},{"transform":[{"filter":"datum.k=='z'"}],"mark":{"type":"rule","color":"#666","strokeWidth":1.2}},{"transform":[{"filter":"datum.k=='t'"}],"mark":{"type":"text","align":"left","baseline":"alphabetic","dy":18.7,"fontSize":17,"color":"#0000ff"},"encoding":{"x":{"field":"w","type":"quantitative","axis":null},"text":{"value":"A"}}},{"transform":[{"filter":"datum.k=='t'"}],"mark":{"type":"text","align":"left","baseline":"alphabetic","dx":11.3,"dy":11.5,"fontSize":12,"color":"#0000ff"},"encoding":{"x":{"field":"w","type":"quantitative","axis":null},"text":{"field":"s"}}},{"transform":[{"filter":"datum.k=='t'"}],"mark":{"type":"text","align":"left","baseline":"alphabetic","dx":11.3,"dy":25,"fontSize":12,"color":"#0000ff"},"encoding":{"x":{"field":"w","type":"quantitative","axis":null},"text":{"field":"b"}}},{"transform":[{"filter":"datum.k=='r'"}],"mark":{"type":"line","color":"#ff0000","strokeWidth":2.3,"clip":true},"encoding":{"x":{"field":"w","type":"quantitative","axis":null}}},{"transform":[{"filter":"datum.k=='b'"}],"mark":{"type":"line","color":"#0000ff","strokeWidth":2.3,"clip":true},"encoding":{"x":{"field":"w","type":"quantitative","axis":null}}},{"transform":[{"filter":"datum.k=='p'&&isValid(datum.lo)"}],"mark":{"type":"rule","color":"#000","strokeWidth":1.3,"clip":true},"encoding":{"x":{"field":"w","type":"quantitative","axis":null},"y":{"field":"lo","type":"quantitative","axis":null},"y2":{"field":"hi"}}},{"transform":[{"filter":"datum.k=='p'&&isValid(datum.lo)"}],"mark":{"type":"tick","orient":"horizontal","size":6,"thickness":1.3,"color":"#000","clip":true},"encoding":{"x":{"field":"w","type":"quantitative","axis":null},"y":{"field":"lo","type":"quantitative","axis":null}}},{"transform":[{"filter":"datum.k=='p'&&isValid(datum.lo)"}],"mark":{"type":"tick","orient":"horizontal","size":6,"thickness":1.3,"color":"#000","clip":true},"encoding":{"x":{"field":"w","type":"quantitative","axis":null},"y":{"field":"hi","type":"quantitative","axis":null}}},
{"transform":[{"filter":"datum.k=='p'"}],"mark":{"type":"point","opacity":0},"encoding":{"x":{"field":"w","type":"quantitative","axis":{"orient":"top","values":[1.5,1.55,1.6,1.65,1.7,1.75,1.8,1.85],"labels":false,"title":null}},"y":{"field":"y","type":"quantitative","axis":{"orient":"right","values":[-4,-3,-2,-1,0,1,2,3,4,5],"labels":false,"title":null}}}},
{"transform":[{"filter":"datum.k=='p'"}],"mark":{"type":"circle","size":30,"color":"#000","opacity":1},"encoding":{"y":{"field":"y","type":"quantitative","axis":{"values":[-4,-3,-2,-1,0,1,2,3,4,5],"labels":false,"title":null}},"x":{"field":"w","type":"quantitative","scale":{"domain":[1.478,1.882],"nice":false,"zero":false},"axis":{"values":[1.5,1.55,1.6,1.65,1.7,1.75,1.8,1.85],"title":null,"labelExpr":"(abs(datum.value-1.6)<0.001||abs(datum.value-1.8)<0.001)?format(datum.value,'.1f'):''","grid":true,"gridDash":[2,2.5],"gridColor":"#222","gridWidth":0.9,"gridOpacity":{"condition":{"test":"abs(datum.value-1.6)<0.001||abs(datum.value-1.8)<0.001","value":1},"value":0}}}}}
]},
{"width":136,"height":148,"transform":[{"filter":"datum.p=='t4'"}],"resolve":{"axis":{"x":"independent","y":"independent"}},"encoding":{"y":{"field":"y","type":"quantitative","scale":{"domain":[-4.94,5.01],"nice":false,"zero":false},"axis":null}},"layer":[
{"transform":[{"filter":"datum.k=='g'"}],"mark":{"type":"rule","color":"#222","strokeWidth":0.9,"strokeDash":[2,2.5]}},{"transform":[{"filter":"datum.k=='z'"}],"mark":{"type":"rule","color":"#666","strokeWidth":1.2}},{"transform":[{"filter":"datum.k=='t'"}],"mark":{"type":"text","align":"left","baseline":"alphabetic","dy":18.7,"fontSize":17,"color":"#0000ff"},"encoding":{"x":{"field":"w","type":"quantitative","axis":null},"text":{"value":"A"}}},{"transform":[{"filter":"datum.k=='t'"}],"mark":{"type":"text","align":"left","baseline":"alphabetic","dx":11.3,"dy":11.5,"fontSize":12,"color":"#0000ff"},"encoding":{"x":{"field":"w","type":"quantitative","axis":null},"text":{"field":"s"}}},{"transform":[{"filter":"datum.k=='t'"}],"mark":{"type":"text","align":"left","baseline":"alphabetic","dx":11.3,"dy":25,"fontSize":12,"color":"#0000ff"},"encoding":{"x":{"field":"w","type":"quantitative","axis":null},"text":{"field":"b"}}},{"transform":[{"filter":"datum.k=='r'"}],"mark":{"type":"line","color":"#ff0000","strokeWidth":2.3,"clip":true},"encoding":{"x":{"field":"w","type":"quantitative","axis":null}}},{"transform":[{"filter":"datum.k=='b'"}],"mark":{"type":"line","color":"#0000ff","strokeWidth":2.3,"clip":true},"encoding":{"x":{"field":"w","type":"quantitative","axis":null}}},{"transform":[{"filter":"datum.k=='p'&&isValid(datum.lo)"}],"mark":{"type":"rule","color":"#000","strokeWidth":1.3,"clip":true},"encoding":{"x":{"field":"w","type":"quantitative","axis":null},"y":{"field":"lo","type":"quantitative","axis":null},"y2":{"field":"hi"}}},{"transform":[{"filter":"datum.k=='p'&&isValid(datum.lo)"}],"mark":{"type":"tick","orient":"horizontal","size":6,"thickness":1.3,"color":"#000","clip":true},"encoding":{"x":{"field":"w","type":"quantitative","axis":null},"y":{"field":"lo","type":"quantitative","axis":null}}},{"transform":[{"filter":"datum.k=='p'&&isValid(datum.lo)"}],"mark":{"type":"tick","orient":"horizontal","size":6,"thickness":1.3,"color":"#000","clip":true},"encoding":{"x":{"field":"w","type":"quantitative","axis":null},"y":{"field":"hi","type":"quantitative","axis":null}}},
{"transform":[{"filter":"datum.k=='p'"}],"mark":{"type":"point","opacity":0},"encoding":{"x":{"field":"w","type":"quantitative","axis":{"orient":"top","values":[1.5,1.55,1.6,1.65,1.7,1.75,1.8,1.85],"labels":false,"title":null}},"y":{"field":"y","type":"quantitative","axis":{"orient":"right","values":[-4,-3,-2,-1,0,1,2,3,4,5],"labels":false,"title":null}}}},
{"transform":[{"filter":"datum.k=='p'"}],"mark":{"type":"circle","size":30,"color":"#000","opacity":1},"encoding":{"y":{"field":"y","type":"quantitative","axis":{"values":[-4,-3,-2,-1,0,1,2,3,4,5],"labels":false,"title":null}},"x":{"field":"w","type":"quantitative","scale":{"domain":[1.478,1.882],"nice":false,"zero":false},"axis":{"values":[1.5,1.55,1.6,1.65,1.7,1.75,1.8,1.85],"title":null,"labelExpr":"(abs(datum.value-1.6)<0.001||abs(datum.value-1.8)<0.001)?format(datum.value,'.1f'):''","grid":true,"gridDash":[2,2.5],"gridColor":"#222","gridWidth":0.9,"gridOpacity":{"condition":{"test":"abs(datum.value-1.6)<0.001||abs(datum.value-1.8)<0.001","value":1},"value":0}}}}}
]},
{"width":136,"height":148,"transform":[{"filter":"datum.p=='t5'"}],"resolve":{"axis":{"x":"independent","y":"independent"}},"encoding":{"y":{"field":"y","type":"quantitative","scale":{"domain":[-4.94,5.01],"nice":false,"zero":false},"axis":null}},"layer":[
{"transform":[{"filter":"datum.k=='g'"}],"mark":{"type":"rule","color":"#222","strokeWidth":0.9,"strokeDash":[2,2.5]}},{"transform":[{"filter":"datum.k=='z'"}],"mark":{"type":"rule","color":"#666","strokeWidth":1.2}},{"transform":[{"filter":"datum.k=='t'"}],"mark":{"type":"text","align":"left","baseline":"alphabetic","dy":18.7,"fontSize":17,"color":"#0000ff"},"encoding":{"x":{"field":"w","type":"quantitative","axis":null},"text":{"value":"A"}}},{"transform":[{"filter":"datum.k=='t'"}],"mark":{"type":"text","align":"left","baseline":"alphabetic","dx":11.3,"dy":11.5,"fontSize":12,"color":"#0000ff"},"encoding":{"x":{"field":"w","type":"quantitative","axis":null},"text":{"field":"s"}}},{"transform":[{"filter":"datum.k=='t'"}],"mark":{"type":"text","align":"left","baseline":"alphabetic","dx":11.3,"dy":25,"fontSize":12,"color":"#0000ff"},"encoding":{"x":{"field":"w","type":"quantitative","axis":null},"text":{"field":"b"}}},{"transform":[{"filter":"datum.k=='r'"}],"mark":{"type":"line","color":"#ff0000","strokeWidth":2.3,"clip":true},"encoding":{"x":{"field":"w","type":"quantitative","axis":null}}},{"transform":[{"filter":"datum.k=='b'"}],"mark":{"type":"line","color":"#0000ff","strokeWidth":2.3,"clip":true},"encoding":{"x":{"field":"w","type":"quantitative","axis":null}}},{"transform":[{"filter":"datum.k=='p'&&isValid(datum.lo)"}],"mark":{"type":"rule","color":"#000","strokeWidth":1.3,"clip":true},"encoding":{"x":{"field":"w","type":"quantitative","axis":null},"y":{"field":"lo","type":"quantitative","axis":null},"y2":{"field":"hi"}}},{"transform":[{"filter":"datum.k=='p'&&isValid(datum.lo)"}],"mark":{"type":"tick","orient":"horizontal","size":6,"thickness":1.3,"color":"#000","clip":true},"encoding":{"x":{"field":"w","type":"quantitative","axis":null},"y":{"field":"lo","type":"quantitative","axis":null}}},{"transform":[{"filter":"datum.k=='p'&&isValid(datum.lo)"}],"mark":{"type":"tick","orient":"horizontal","size":6,"thickness":1.3,"color":"#000","clip":true},"encoding":{"x":{"field":"w","type":"quantitative","axis":null},"y":{"field":"hi","type":"quantitative","axis":null}}},
{"transform":[{"filter":"datum.k=='p'"}],"mark":{"type":"point","opacity":0},"encoding":{"x":{"field":"w","type":"quantitative","axis":{"orient":"top","values":[1.5,1.55,1.6,1.65,1.7],"labels":false,"title":null}},"y":{"field":"y","type":"quantitative","axis":{"orient":"right","values":[-4,-3,-2,-1,0,1,2,3,4,5],"labels":false,"title":null}}}},
{"transform":[{"filter":"datum.k=='p'"}],"mark":{"type":"circle","size":30,"color":"#000","opacity":1},"encoding":{"y":{"field":"y","type":"quantitative","axis":{"values":[-4,-3,-2,-1,0,1,2,3,4,5],"labels":false,"title":null}},"x":{"field":"w","type":"quantitative","scale":{"domain":[1.478,1.882],"nice":false,"zero":false},"axis":{"values":[1.5,1.55,1.6,1.65,1.7,1.75,1.8,1.85],"title":null,"labelExpr":"abs(datum.value-1.6)<0.001?'1.6':''","grid":true,"gridDash":[2,2.5],"gridColor":"#222","gridWidth":0.9,"gridOpacity":{"condition":{"test":"abs(datum.value-1.6)<0.001||abs(datum.value-1.8)<0.001","value":1},"value":0}}}}}
]},
{"width":136,"height":148,"data":{"values":[]},"mark":{"type":"point","opacity":0},"view":{"stroke":null}},
{"width":136,"height":148,"transform":[{"filter":"datum.p=='f1'"}],"resolve":{"axis":{"x":"independent","y":"independent"}},"encoding":{"y":{"field":"y","type":"quantitative","scale":{"domain":[-6.2,3.89],"nice":false,"zero":false},"axis":null}},"layer":[
{"transform":[{"filter":"datum.k=='g'"}],"mark":{"type":"rule","color":"#222","strokeWidth":0.9,"strokeDash":[2,2.5]}},{"transform":[{"filter":"datum.k=='z'"}],"mark":{"type":"rule","color":"#666","strokeWidth":1.2}},{"transform":[{"filter":"datum.k=='t'"}],"mark":{"type":"text","align":"left","baseline":"alphabetic","dy":18.7,"fontSize":17,"color":"#0000ff"},"encoding":{"x":{"field":"w","type":"quantitative","axis":null},"text":{"value":"A"}}},{"transform":[{"filter":"datum.k=='t'"}],"mark":{"type":"text","align":"left","baseline":"alphabetic","dx":11.3,"dy":11.5,"fontSize":12,"color":"#0000ff"},"encoding":{"x":{"field":"w","type":"quantitative","axis":null},"text":{"field":"s"}}},{"transform":[{"filter":"datum.k=='t'"}],"mark":{"type":"text","align":"left","baseline":"alphabetic","dx":11.3,"dy":25,"fontSize":12,"color":"#0000ff"},"encoding":{"x":{"field":"w","type":"quantitative","axis":null},"text":{"field":"b"}}},{"transform":[{"filter":"datum.k=='r'"}],"mark":{"type":"line","color":"#ff0000","strokeWidth":2.3,"clip":true},"encoding":{"x":{"field":"w","type":"quantitative","axis":null}}},{"transform":[{"filter":"datum.k=='b'"}],"mark":{"type":"line","color":"#0000ff","strokeWidth":2.3,"clip":true},"encoding":{"x":{"field":"w","type":"quantitative","axis":null}}},{"transform":[{"filter":"datum.k=='p'&&isValid(datum.lo)"}],"mark":{"type":"rule","color":"#000","strokeWidth":1.3,"clip":true},"encoding":{"x":{"field":"w","type":"quantitative","axis":null},"y":{"field":"lo","type":"quantitative","axis":null},"y2":{"field":"hi"}}},{"transform":[{"filter":"datum.k=='p'&&isValid(datum.lo)"}],"mark":{"type":"tick","orient":"horizontal","size":6,"thickness":1.3,"color":"#000","clip":true},"encoding":{"x":{"field":"w","type":"quantitative","axis":null},"y":{"field":"lo","type":"quantitative","axis":null}}},{"transform":[{"filter":"datum.k=='p'&&isValid(datum.lo)"}],"mark":{"type":"tick","orient":"horizontal","size":6,"thickness":1.3,"color":"#000","clip":true},"encoding":{"x":{"field":"w","type":"quantitative","axis":null},"y":{"field":"hi","type":"quantitative","axis":null}}},
{"transform":[{"filter":"datum.k=='p'"}],"mark":{"type":"point","opacity":0},"encoding":{"x":{"field":"w","type":"quantitative","axis":{"orient":"top","values":[1.5,1.55,1.6,1.65,1.7,1.75,1.8,1.85],"labels":false,"title":null}},"y":{"field":"y","type":"quantitative","axis":{"orient":"right","values":[2.77,1.77,0.77,-0.23,-1.23,-2.23,-3.23,-4.23,-5.23],"labels":false,"title":null}}}},
{"transform":[{"filter":"datum.k=='p'"}],"mark":{"type":"circle","size":30,"color":"#000","opacity":1},"encoding":{"y":{"field":"y","type":"quantitative","axis":{"values":[2.77,1.77,0.77,-0.23,-1.23,-2.23,-3.23,-4.23,-5.23],"labels":false,"title":null}},"x":{"field":"w","type":"quantitative","scale":{"domain":[1.478,1.882],"nice":false,"zero":false},"axis":{"values":[1.5,1.55,1.6,1.65,1.7,1.75,1.8,1.85],"title":null,"labelExpr":"(abs(datum.value-1.6)<0.001||abs(datum.value-1.8)<0.001)?format(datum.value,'.1f'):''","grid":true,"gridDash":[2,2.5],"gridColor":"#222","gridWidth":0.9,"gridOpacity":{"condition":{"test":"abs(datum.value-1.6)<0.001||abs(datum.value-1.8)<0.001","value":1},"value":0}}}}}
]},
{"width":136,"height":148,"transform":[{"filter":"datum.p=='f2'"}],"resolve":{"axis":{"x":"independent","y":"independent"}},"encoding":{"y":{"field":"y","type":"quantitative","scale":{"domain":[-2.0,6.1],"nice":false,"zero":false},"axis":null}},"layer":[
{"transform":[{"filter":"datum.k=='g'"}],"mark":{"type":"rule","color":"#222","strokeWidth":0.9,"strokeDash":[2,2.5]}},{"transform":[{"filter":"datum.k=='z'"}],"mark":{"type":"rule","color":"#666","strokeWidth":1.2}},{"transform":[{"filter":"datum.k=='t'"}],"mark":{"type":"text","align":"left","baseline":"alphabetic","dy":18.7,"fontSize":17,"color":"#0000ff"},"encoding":{"x":{"field":"w","type":"quantitative","axis":null},"text":{"value":"A"}}},{"transform":[{"filter":"datum.k=='t'"}],"mark":{"type":"text","align":"left","baseline":"alphabetic","dx":11.3,"dy":11.5,"fontSize":12,"color":"#0000ff"},"encoding":{"x":{"field":"w","type":"quantitative","axis":null},"text":{"field":"s"}}},{"transform":[{"filter":"datum.k=='t'"}],"mark":{"type":"text","align":"left","baseline":"alphabetic","dx":11.3,"dy":25,"fontSize":12,"color":"#0000ff"},"encoding":{"x":{"field":"w","type":"quantitative","axis":null},"text":{"field":"b"}}},{"transform":[{"filter":"datum.k=='r'"}],"mark":{"type":"line","color":"#ff0000","strokeWidth":2.3,"clip":true},"encoding":{"x":{"field":"w","type":"quantitative","axis":null}}},{"transform":[{"filter":"datum.k=='b'"}],"mark":{"type":"line","color":"#0000ff","strokeWidth":2.3,"clip":true},"encoding":{"x":{"field":"w","type":"quantitative","axis":null}}},{"transform":[{"filter":"datum.k=='p'&&isValid(datum.lo)"}],"mark":{"type":"rule","color":"#000","strokeWidth":1.3,"clip":true},"encoding":{"x":{"field":"w","type":"quantitative","axis":null},"y":{"field":"lo","type":"quantitative","axis":null},"y2":{"field":"hi"}}},{"transform":[{"filter":"datum.k=='p'&&isValid(datum.lo)"}],"mark":{"type":"tick","orient":"horizontal","size":6,"thickness":1.3,"color":"#000","clip":true},"encoding":{"x":{"field":"w","type":"quantitative","axis":null},"y":{"field":"lo","type":"quantitative","axis":null}}},{"transform":[{"filter":"datum.k=='p'&&isValid(datum.lo)"}],"mark":{"type":"tick","orient":"horizontal","size":6,"thickness":1.3,"color":"#000","clip":true},"encoding":{"x":{"field":"w","type":"quantitative","axis":null},"y":{"field":"hi","type":"quantitative","axis":null}}},
{"transform":[{"filter":"datum.k=='p'"}],"mark":{"type":"point","opacity":0},"encoding":{"x":{"field":"w","type":"quantitative","axis":{"orient":"top","values":[1.5,1.55,1.6,1.65,1.7,1.75,1.8,1.85],"labels":false,"title":null}},"y":{"field":"y","type":"quantitative","axis":{"orient":"right","values":[-1,0,1,2,3,4,5,6],"labels":false,"title":null}}}},
{"transform":[{"filter":"datum.k=='p'"}],"mark":{"type":"circle","size":30,"color":"#000","opacity":1},"encoding":{"y":{"field":"y","type":"quantitative","axis":{"values":[-1,0,1,2,3,4,5,6],"labels":false,"title":null}},"x":{"field":"w","type":"quantitative","scale":{"domain":[1.478,1.882],"nice":false,"zero":false},"axis":{"values":[1.5,1.55,1.6,1.65,1.7,1.75,1.8,1.85],"title":null,"labelExpr":"(abs(datum.value-1.6)<0.001||abs(datum.value-1.8)<0.001)?format(datum.value,'.1f'):''","grid":true,"gridDash":[2,2.5],"gridColor":"#222","gridWidth":0.9,"gridOpacity":{"condition":{"test":"abs(datum.value-1.6)<0.001||abs(datum.value-1.8)<0.001","value":1},"value":0}}}}}
]},
{"width":136,"height":148,"transform":[{"filter":"datum.p=='f3'"}],"resolve":{"axis":{"x":"independent","y":"independent"}},"encoding":{"y":{"field":"y","type":"quantitative","scale":{"domain":[-4.98,5.02],"nice":false,"zero":false},"axis":null}},"layer":[
{"transform":[{"filter":"datum.k=='g'"}],"mark":{"type":"rule","color":"#222","strokeWidth":0.9,"strokeDash":[2,2.5]}},{"transform":[{"filter":"datum.k=='z'"}],"mark":{"type":"rule","color":"#666","strokeWidth":1.2}},{"transform":[{"filter":"datum.k=='t'"}],"mark":{"type":"text","align":"left","baseline":"alphabetic","dy":18.7,"fontSize":17,"color":"#0000ff"},"encoding":{"x":{"field":"w","type":"quantitative","axis":null},"text":{"value":"A"}}},{"transform":[{"filter":"datum.k=='t'"}],"mark":{"type":"text","align":"left","baseline":"alphabetic","dx":11.3,"dy":11.5,"fontSize":12,"color":"#0000ff"},"encoding":{"x":{"field":"w","type":"quantitative","axis":null},"text":{"field":"s"}}},{"transform":[{"filter":"datum.k=='t'"}],"mark":{"type":"text","align":"left","baseline":"alphabetic","dx":11.3,"dy":25,"fontSize":12,"color":"#0000ff"},"encoding":{"x":{"field":"w","type":"quantitative","axis":null},"text":{"field":"b"}}},{"transform":[{"filter":"datum.k=='r'"}],"mark":{"type":"line","color":"#ff0000","strokeWidth":2.3,"clip":true},"encoding":{"x":{"field":"w","type":"quantitative","axis":null}}},{"transform":[{"filter":"datum.k=='b'"}],"mark":{"type":"line","color":"#0000ff","strokeWidth":2.3,"clip":true},"encoding":{"x":{"field":"w","type":"quantitative","axis":null}}},{"transform":[{"filter":"datum.k=='p'&&isValid(datum.lo)"}],"mark":{"type":"rule","color":"#000","strokeWidth":1.3,"clip":true},"encoding":{"x":{"field":"w","type":"quantitative","axis":null},"y":{"field":"lo","type":"quantitative","axis":null},"y2":{"field":"hi"}}},{"transform":[{"filter":"datum.k=='p'&&isValid(datum.lo)"}],"mark":{"type":"tick","orient":"horizontal","size":6,"thickness":1.3,"color":"#000","clip":true},"encoding":{"x":{"field":"w","type":"quantitative","axis":null},"y":{"field":"lo","type":"quantitative","axis":null}}},{"transform":[{"filter":"datum.k=='p'&&isValid(datum.lo)"}],"mark":{"type":"tick","orient":"horizontal","size":6,"thickness":1.3,"color":"#000","clip":true},"encoding":{"x":{"field":"w","type":"quantitative","axis":null},"y":{"field":"hi","type":"quantitative","axis":null}}},
{"transform":[{"filter":"datum.k=='p'"}],"mark":{"type":"point","opacity":0},"encoding":{"x":{"field":"w","type":"quantitative","axis":{"orient":"top","values":[1.5,1.55,1.6,1.65,1.7,1.75,1.8,1.85],"labels":false,"title":null}},"y":{"field":"y","type":"quantitative","axis":{"orient":"right","values":[-4,-3,-2,-1,0,1,2,3,4,5],"labels":false,"title":null}}}},
{"transform":[{"filter":"datum.k=='p'"}],"mark":{"type":"circle","size":30,"color":"#000","opacity":1},"encoding":{"y":{"field":"y","type":"quantitative","axis":{"values":[-4,-3,-2,-1,0,1,2,3,4,5],"labels":false,"title":null}},"x":{"field":"w","type":"quantitative","scale":{"domain":[1.478,1.882],"nice":false,"zero":false},"axis":{"values":[1.5,1.55,1.6,1.65,1.7,1.75,1.8,1.85],"title":null,"labelExpr":"(abs(datum.value-1.6)<0.001||abs(datum.value-1.8)<0.001)?format(datum.value,'.1f'):''","grid":true,"gridDash":[2,2.5],"gridColor":"#222","gridWidth":0.9,"gridOpacity":{"condition":{"test":"abs(datum.value-1.6)<0.001||abs(datum.value-1.8)<0.001","value":1},"value":0}}}}}
]},
{"width":136,"height":148,"transform":[{"filter":"datum.p=='f4'"}],"resolve":{"axis":{"x":"independent","y":"independent"}},"encoding":{"y":{"field":"y","type":"quantitative","scale":{"domain":[-4.98,5.02],"nice":false,"zero":false},"axis":null}},"layer":[
{"transform":[{"filter":"datum.k=='g'"}],"mark":{"type":"rule","color":"#222","strokeWidth":0.9,"strokeDash":[2,2.5]}},{"transform":[{"filter":"datum.k=='z'"}],"mark":{"type":"rule","color":"#666","strokeWidth":1.2}},{"transform":[{"filter":"datum.k=='t'"}],"mark":{"type":"text","align":"left","baseline":"alphabetic","dy":18.7,"fontSize":17,"color":"#0000ff"},"encoding":{"x":{"field":"w","type":"quantitative","axis":null},"text":{"value":"A"}}},{"transform":[{"filter":"datum.k=='t'"}],"mark":{"type":"text","align":"left","baseline":"alphabetic","dx":11.3,"dy":11.5,"fontSize":12,"color":"#0000ff"},"encoding":{"x":{"field":"w","type":"quantitative","axis":null},"text":{"field":"s"}}},{"transform":[{"filter":"datum.k=='t'"}],"mark":{"type":"text","align":"left","baseline":"alphabetic","dx":11.3,"dy":25,"fontSize":12,"color":"#0000ff"},"encoding":{"x":{"field":"w","type":"quantitative","axis":null},"text":{"field":"b"}}},{"transform":[{"filter":"datum.k=='r'"}],"mark":{"type":"line","color":"#ff0000","strokeWidth":2.3,"clip":true},"encoding":{"x":{"field":"w","type":"quantitative","axis":null}}},{"transform":[{"filter":"datum.k=='b'"}],"mark":{"type":"line","color":"#0000ff","strokeWidth":2.3,"clip":true},"encoding":{"x":{"field":"w","type":"quantitative","axis":null}}},{"transform":[{"filter":"datum.k=='p'&&isValid(datum.lo)"}],"mark":{"type":"rule","color":"#000","strokeWidth":1.3,"clip":true},"encoding":{"x":{"field":"w","type":"quantitative","axis":null},"y":{"field":"lo","type":"quantitative","axis":null},"y2":{"field":"hi"}}},{"transform":[{"filter":"datum.k=='p'&&isValid(datum.lo)"}],"mark":{"type":"tick","orient":"horizontal","size":6,"thickness":1.3,"color":"#000","clip":true},"encoding":{"x":{"field":"w","type":"quantitative","axis":null},"y":{"field":"lo","type":"quantitative","axis":null}}},{"transform":[{"filter":"datum.k=='p'&&isValid(datum.lo)"}],"mark":{"type":"tick","orient":"horizontal","size":6,"thickness":1.3,"color":"#000","clip":true},"encoding":{"x":{"field":"w","type":"quantitative","axis":null},"y":{"field":"hi","type":"quantitative","axis":null}}},
{"transform":[{"filter":"datum.k=='p'"}],"mark":{"type":"point","opacity":0},"encoding":{"x":{"field":"w","type":"quantitative","axis":{"orient":"top","values":[1.5,1.55,1.6,1.65,1.7,1.75,1.8,1.85],"labels":false,"title":null}},"y":{"field":"y","type":"quantitative","axis":{"orient":"right","values":[-4,-3,-2,-1,0,1,2,3,4,5],"labels":false,"title":null}}}},
{"transform":[{"filter":"datum.k=='p'"}],"mark":{"type":"circle","size":30,"color":"#000","opacity":1},"encoding":{"y":{"field":"y","type":"quantitative","axis":{"values":[-4,-3,-2,-1,0,1,2,3,4,5],"labels":false,"title":null}},"x":{"field":"w","type":"quantitative","scale":{"domain":[1.478,1.882],"nice":false,"zero":false},"axis":{"values":[1.5,1.55,1.6,1.65,1.7,1.75,1.8,1.85],"title":null,"labelExpr":"(abs(datum.value-1.6)<0.001||abs(datum.value-1.8)<0.001)?format(datum.value,'.1f'):''","grid":true,"gridDash":[2,2.5],"gridColor":"#222","gridWidth":0.9,"gridOpacity":{"condition":{"test":"abs(datum.value-1.6)<0.001||abs(datum.value-1.8)<0.001","value":1},"value":0}}}}}
]},
{"width":136,"height":148,"transform":[{"filter":"datum.p=='f5'"}],"resolve":{"axis":{"x":"independent","y":"independent"}},"encoding":{"y":{"field":"y","type":"quantitative","scale":{"domain":[-4.98,5.02],"nice":false,"zero":false},"axis":null}},"layer":[
{"transform":[{"filter":"datum.k=='g'"}],"mark":{"type":"rule","color":"#222","strokeWidth":0.9,"strokeDash":[2,2.5]}},{"transform":[{"filter":"datum.k=='z'"}],"mark":{"type":"rule","color":"#666","strokeWidth":1.2}},{"transform":[{"filter":"datum.k=='t'"}],"mark":{"type":"text","align":"left","baseline":"alphabetic","dy":18.7,"fontSize":17,"color":"#0000ff"},"encoding":{"x":{"field":"w","type":"quantitative","axis":null},"text":{"value":"A"}}},{"transform":[{"filter":"datum.k=='t'"}],"mark":{"type":"text","align":"left","baseline":"alphabetic","dx":11.3,"dy":11.5,"fontSize":12,"color":"#0000ff"},"encoding":{"x":{"field":"w","type":"quantitative","axis":null},"text":{"field":"s"}}},{"transform":[{"filter":"datum.k=='t'"}],"mark":{"type":"text","align":"left","baseline":"alphabetic","dx":11.3,"dy":25,"fontSize":12,"color":"#0000ff"},"encoding":{"x":{"field":"w","type":"quantitative","axis":null},"text":{"field":"b"}}},{"transform":[{"filter":"datum.k=='r'"}],"mark":{"type":"line","color":"#ff0000","strokeWidth":2.3,"clip":true},"encoding":{"x":{"field":"w","type":"quantitative","axis":null}}},{"transform":[{"filter":"datum.k=='b'"}],"mark":{"type":"line","color":"#0000ff","strokeWidth":2.3,"clip":true},"encoding":{"x":{"field":"w","type":"quantitative","axis":null}}},{"transform":[{"filter":"datum.k=='p'&&isValid(datum.lo)"}],"mark":{"type":"rule","color":"#000","strokeWidth":1.3,"clip":true},"encoding":{"x":{"field":"w","type":"quantitative","axis":null},"y":{"field":"lo","type":"quantitative","axis":null},"y2":{"field":"hi"}}},{"transform":[{"filter":"datum.k=='p'&&isValid(datum.lo)"}],"mark":{"type":"tick","orient":"horizontal","size":6,"thickness":1.3,"color":"#000","clip":true},"encoding":{"x":{"field":"w","type":"quantitative","axis":null},"y":{"field":"lo","type":"quantitative","axis":null}}},{"transform":[{"filter":"datum.k=='p'&&isValid(datum.lo)"}],"mark":{"type":"tick","orient":"horizontal","size":6,"thickness":1.3,"color":"#000","clip":true},"encoding":{"x":{"field":"w","type":"quantitative","axis":null},"y":{"field":"hi","type":"quantitative","axis":null}}},
{"transform":[{"filter":"datum.k=='p'"}],"mark":{"type":"point","opacity":0},"encoding":{"x":{"field":"w","type":"quantitative","axis":{"orient":"top","values":[1.5,1.55,1.6,1.65,1.7],"labels":false,"title":null}},"y":{"field":"y","type":"quantitative","axis":{"orient":"right","values":[-4,-3,-2,-1,0,1,2,3,4,5],"labels":false,"title":null}}}},
{"transform":[{"filter":"datum.k=='p'"}],"mark":{"type":"circle","size":30,"color":"#000","opacity":1},"encoding":{"y":{"field":"y","type":"quantitative","axis":{"values":[-4,-3,-2,-1,0,1,2,3,4,5],"labels":false,"title":null}},"x":{"field":"w","type":"quantitative","scale":{"domain":[1.478,1.882],"nice":false,"zero":false},"axis":{"values":[1.5,1.55,1.6,1.65,1.7,1.75,1.8,1.85],"title":null,"labelExpr":"abs(datum.value-1.6)<0.001?'1.6':''","grid":true,"gridDash":[2,2.5],"gridColor":"#222","gridWidth":0.9,"gridOpacity":{"condition":{"test":"abs(datum.value-1.6)<0.001||abs(datum.value-1.8)<0.001","value":1},"value":0}}}}}
]},
{"width":136,"height":148,"data":{"values":[]},"mark":{"type":"point","opacity":0},"view":{"stroke":null}},
{"width":136,"height":148,"data":{"values":[]},"mark":{"type":"point","opacity":0},"view":{"stroke":null}},
{"width":136,"height":148,"transform":[{"filter":"datum.p=='g2'"}],"resolve":{"axis":{"x":"independent","y":"independent"}},"encoding":{"y":{"field":"y","type":"quantitative","scale":{"domain":[0,5.98],"nice":false,"zero":false},"axis":null}},"layer":[
{"transform":[{"filter":"datum.k=='g'"}],"mark":{"type":"rule","color":"#222","strokeWidth":0.9,"strokeDash":[2,2.5]}},{"transform":[{"filter":"datum.k=='z'"}],"mark":{"type":"rule","color":"#666","strokeWidth":1.2}},{"transform":[{"filter":"datum.k=='t'"}],"mark":{"type":"text","align":"left","baseline":"alphabetic","dy":18.7,"fontSize":17,"color":"#0000ff"},"encoding":{"x":{"field":"w","type":"quantitative","axis":null},"text":{"value":"A"}}},{"transform":[{"filter":"datum.k=='t'"}],"mark":{"type":"text","align":"left","baseline":"alphabetic","dx":11.3,"dy":11.5,"fontSize":12,"color":"#0000ff"},"encoding":{"x":{"field":"w","type":"quantitative","axis":null},"text":{"field":"s"}}},{"transform":[{"filter":"datum.k=='t'"}],"mark":{"type":"text","align":"left","baseline":"alphabetic","dx":11.3,"dy":25,"fontSize":12,"color":"#0000ff"},"encoding":{"x":{"field":"w","type":"quantitative","axis":null},"text":{"field":"b"}}},{"transform":[{"filter":"datum.k=='r'"}],"mark":{"type":"line","color":"#ff0000","strokeWidth":2.3,"clip":true},"encoding":{"x":{"field":"w","type":"quantitative","axis":null}}},{"transform":[{"filter":"datum.k=='b'"}],"mark":{"type":"line","color":"#0000ff","strokeWidth":2.3,"clip":true},"encoding":{"x":{"field":"w","type":"quantitative","axis":null}}},{"transform":[{"filter":"datum.k=='p'&&isValid(datum.lo)"}],"mark":{"type":"rule","color":"#000","strokeWidth":1.3,"clip":true},"encoding":{"x":{"field":"w","type":"quantitative","axis":null},"y":{"field":"lo","type":"quantitative","axis":null},"y2":{"field":"hi"}}},{"transform":[{"filter":"datum.k=='p'&&isValid(datum.lo)"}],"mark":{"type":"tick","orient":"horizontal","size":6,"thickness":1.3,"color":"#000","clip":true},"encoding":{"x":{"field":"w","type":"quantitative","axis":null},"y":{"field":"lo","type":"quantitative","axis":null}}},{"transform":[{"filter":"datum.k=='p'&&isValid(datum.lo)"}],"mark":{"type":"tick","orient":"horizontal","size":6,"thickness":1.3,"color":"#000","clip":true},"encoding":{"x":{"field":"w","type":"quantitative","axis":null},"y":{"field":"hi","type":"quantitative","axis":null}}},
{"transform":[{"filter":"datum.k=='p'"}],"mark":{"type":"point","opacity":0},"encoding":{"x":{"field":"w","type":"quantitative","axis":{"orient":"top","values":[1.5,1.55,1.6,1.65,1.7,1.75,1.8,1.85,1.9],"labels":false,"title":null}},"y":{"field":"y","type":"quantitative","axis":{"orient":"right","values":[0,1,2,3,4,5],"labels":false,"title":null}}}},
{"transform":[{"filter":"datum.k=='p'"}],"mark":{"type":"circle","size":30,"color":"#000","opacity":1},"encoding":{"y":{"field":"y","type":"quantitative","axis":{"values":[0,1,2,3,4,5],"title":null,"labelExpr":"datum.value==0?'0':''","labelBaseline":"middle","labelPadding":3}},"x":{"field":"w","type":"quantitative","scale":{"domain":[1.48,1.908],"nice":false,"zero":false},"axis":{"values":[1.5,1.55,1.6,1.65,1.7,1.75,1.8,1.85,1.9],"title":null,"labelExpr":"(abs(datum.value-1.6)<0.001||abs(datum.value-1.8)<0.001)?format(datum.value,'.1f'):''","grid":true,"gridDash":[2,2.5],"gridColor":"#222","gridWidth":0.9,"gridOpacity":{"condition":{"test":"abs(datum.value-1.6)<0.001||abs(datum.value-1.8)<0.001","value":1},"value":0}}}}}
]},
{"width":136,"height":148,"transform":[{"filter":"datum.p=='g3'"}],"resolve":{"axis":{"x":"independent","y":"independent"}},"encoding":{"y":{"field":"y","type":"quantitative","scale":{"domain":[-1.99,5.02],"nice":false,"zero":false},"axis":null}},"layer":[
{"transform":[{"filter":"datum.k=='g'"}],"mark":{"type":"rule","color":"#222","strokeWidth":0.9,"strokeDash":[2,2.5]}},{"transform":[{"filter":"datum.k=='z'"}],"mark":{"type":"rule","color":"#666","strokeWidth":1.2}},{"transform":[{"filter":"datum.k=='t'"}],"mark":{"type":"text","align":"left","baseline":"alphabetic","dy":18.7,"fontSize":17,"color":"#0000ff"},"encoding":{"x":{"field":"w","type":"quantitative","axis":null},"text":{"value":"A"}}},{"transform":[{"filter":"datum.k=='t'"}],"mark":{"type":"text","align":"left","baseline":"alphabetic","dx":11.3,"dy":11.5,"fontSize":12,"color":"#0000ff"},"encoding":{"x":{"field":"w","type":"quantitative","axis":null},"text":{"field":"s"}}},{"transform":[{"filter":"datum.k=='t'"}],"mark":{"type":"text","align":"left","baseline":"alphabetic","dx":11.3,"dy":25,"fontSize":12,"color":"#0000ff"},"encoding":{"x":{"field":"w","type":"quantitative","axis":null},"text":{"field":"b"}}},{"transform":[{"filter":"datum.k=='r'"}],"mark":{"type":"line","color":"#ff0000","strokeWidth":2.3,"clip":true},"encoding":{"x":{"field":"w","type":"quantitative","axis":null}}},{"transform":[{"filter":"datum.k=='b'"}],"mark":{"type":"line","color":"#0000ff","strokeWidth":2.3,"clip":true},"encoding":{"x":{"field":"w","type":"quantitative","axis":null}}},{"transform":[{"filter":"datum.k=='p'&&isValid(datum.lo)"}],"mark":{"type":"rule","color":"#000","strokeWidth":1.3,"clip":true},"encoding":{"x":{"field":"w","type":"quantitative","axis":null},"y":{"field":"lo","type":"quantitative","axis":null},"y2":{"field":"hi"}}},{"transform":[{"filter":"datum.k=='p'&&isValid(datum.lo)"}],"mark":{"type":"tick","orient":"horizontal","size":6,"thickness":1.3,"color":"#000","clip":true},"encoding":{"x":{"field":"w","type":"quantitative","axis":null},"y":{"field":"lo","type":"quantitative","axis":null}}},{"transform":[{"filter":"datum.k=='p'&&isValid(datum.lo)"}],"mark":{"type":"tick","orient":"horizontal","size":6,"thickness":1.3,"color":"#000","clip":true},"encoding":{"x":{"field":"w","type":"quantitative","axis":null},"y":{"field":"hi","type":"quantitative","axis":null}}},
{"transform":[{"filter":"datum.k=='p'"}],"mark":{"type":"point","opacity":0},"encoding":{"x":{"field":"w","type":"quantitative","axis":{"orient":"top","values":[1.5,1.55,1.6,1.65,1.7,1.75,1.8,1.85,1.9],"labels":false,"title":null}},"y":{"field":"y","type":"quantitative","axis":{"orient":"right","values":[-1,0,1,2,3,4,5],"labels":false,"title":null}}}},
{"transform":[{"filter":"datum.k=='p'"}],"mark":{"type":"circle","size":30,"color":"#000","opacity":1},"encoding":{"y":{"field":"y","type":"quantitative","axis":{"values":[-1,0,1,2,3,4,5],"labels":false,"title":null}},"x":{"field":"w","type":"quantitative","scale":{"domain":[1.48,1.908],"nice":false,"zero":false},"axis":{"values":[1.5,1.55,1.6,1.65,1.7,1.75,1.8,1.85,1.9],"title":"W [GeV]","titleColor":"#0000ff","titleFontSize":19,"titleFontWeight":"normal","titleBaseline":"top","titleAlign":"center","titleX":63,"titleY":13.5,"labelExpr":"(abs(datum.value-1.6)<0.001||abs(datum.value-1.8)<0.001)?format(datum.value,'.1f'):''","grid":true,"gridDash":[2,2.5],"gridColor":"#222","gridWidth":0.9,"gridOpacity":{"condition":{"test":"abs(datum.value-1.6)<0.001||abs(datum.value-1.8)<0.001","value":1},"value":0}}}}}
]},
{"width":136,"height":148,"transform":[{"filter":"datum.p=='g4'"}],"resolve":{"axis":{"x":"independent","y":"independent"}},"encoding":{"y":{"field":"y","type":"quantitative","scale":{"domain":[-1.46,6.02],"nice":false,"zero":false},"axis":null}},"layer":[
{"transform":[{"filter":"datum.k=='g'"}],"mark":{"type":"rule","color":"#222","strokeWidth":0.9,"strokeDash":[2,2.5]}},{"transform":[{"filter":"datum.k=='z'"}],"mark":{"type":"rule","color":"#666","strokeWidth":1.2}},{"transform":[{"filter":"datum.k=='t'"}],"mark":{"type":"text","align":"left","baseline":"alphabetic","dy":18.7,"fontSize":17,"color":"#0000ff"},"encoding":{"x":{"field":"w","type":"quantitative","axis":null},"text":{"value":"A"}}},{"transform":[{"filter":"datum.k=='t'"}],"mark":{"type":"text","align":"left","baseline":"alphabetic","dx":11.3,"dy":11.5,"fontSize":12,"color":"#0000ff"},"encoding":{"x":{"field":"w","type":"quantitative","axis":null},"text":{"field":"s"}}},{"transform":[{"filter":"datum.k=='t'"}],"mark":{"type":"text","align":"left","baseline":"alphabetic","dx":11.3,"dy":25,"fontSize":12,"color":"#0000ff"},"encoding":{"x":{"field":"w","type":"quantitative","axis":null},"text":{"field":"b"}}},{"transform":[{"filter":"datum.k=='r'"}],"mark":{"type":"line","color":"#ff0000","strokeWidth":2.3,"clip":true},"encoding":{"x":{"field":"w","type":"quantitative","axis":null}}},{"transform":[{"filter":"datum.k=='b'"}],"mark":{"type":"line","color":"#0000ff","strokeWidth":2.3,"clip":true},"encoding":{"x":{"field":"w","type":"quantitative","axis":null}}},{"transform":[{"filter":"datum.k=='p'&&isValid(datum.lo)"}],"mark":{"type":"rule","color":"#000","strokeWidth":1.3,"clip":true},"encoding":{"x":{"field":"w","type":"quantitative","axis":null},"y":{"field":"lo","type":"quantitative","axis":null},"y2":{"field":"hi"}}},{"transform":[{"filter":"datum.k=='p'&&isValid(datum.lo)"}],"mark":{"type":"tick","orient":"horizontal","size":6,"thickness":1.3,"color":"#000","clip":true},"encoding":{"x":{"field":"w","type":"quantitative","axis":null},"y":{"field":"lo","type":"quantitative","axis":null}}},{"transform":[{"filter":"datum.k=='p'&&isValid(datum.lo)"}],"mark":{"type":"tick","orient":"horizontal","size":6,"thickness":1.3,"color":"#000","clip":true},"encoding":{"x":{"field":"w","type":"quantitative","axis":null},"y":{"field":"hi","type":"quantitative","axis":null}}},
{"transform":[{"filter":"datum.k=='p'"}],"mark":{"type":"point","opacity":0},"encoding":{"x":{"field":"w","type":"quantitative","axis":{"orient":"top","values":[1.5,1.55,1.6,1.65,1.7,1.75,1.8,1.85,1.9],"labels":false,"title":null}},"y":{"field":"y","type":"quantitative","axis":{"orient":"right","values":[-1,0,1,2,3,4,5,6],"labels":false,"title":null}}}},
{"transform":[{"filter":"datum.k=='p'"}],"mark":{"type":"circle","size":30,"color":"#000","opacity":1},"encoding":{"y":{"field":"y","type":"quantitative","axis":{"values":[-1,0,1,2,3,4,5,6],"labels":false,"title":null}},"x":{"field":"w","type":"quantitative","scale":{"domain":[1.48,1.908],"nice":false,"zero":false},"axis":{"values":[1.5,1.55,1.6,1.65,1.7,1.75,1.8,1.85,1.9],"title":null,"labelExpr":"(abs(datum.value-1.6)<0.001||abs(datum.value-1.8)<0.001)?format(datum.value,'.1f'):''","grid":true,"gridDash":[2,2.5],"gridColor":"#222","gridWidth":0.9,"gridOpacity":{"condition":{"test":"abs(datum.value-1.6)<0.001||abs(datum.value-1.8)<0.001","value":1},"value":0}}}}}
]},
{"width":136,"height":148,"transform":[{"filter":"datum.p=='g5'"}],"resolve":{"axis":{"x":"independent","y":"independent"}},"encoding":{"y":{"field":"y","type":"quantitative","scale":{"domain":[-1.46,6.02],"nice":false,"zero":false},"axis":null}},"layer":[
{"transform":[{"filter":"datum.k=='g'"}],"mark":{"type":"rule","color":"#222","strokeWidth":0.9,"strokeDash":[2,2.5]}},{"transform":[{"filter":"datum.k=='z'"}],"mark":{"type":"rule","color":"#666","strokeWidth":1.2}},{"transform":[{"filter":"datum.k=='t'"}],"mark":{"type":"text","align":"left","baseline":"alphabetic","dy":18.7,"fontSize":17,"color":"#0000ff"},"encoding":{"x":{"field":"w","type":"quantitative","axis":null},"text":{"value":"A"}}},{"transform":[{"filter":"datum.k=='t'"}],"mark":{"type":"text","align":"left","baseline":"alphabetic","dx":11.3,"dy":11.5,"fontSize":12,"color":"#0000ff"},"encoding":{"x":{"field":"w","type":"quantitative","axis":null},"text":{"field":"s"}}},{"transform":[{"filter":"datum.k=='t'"}],"mark":{"type":"text","align":"left","baseline":"alphabetic","dx":11.3,"dy":25,"fontSize":12,"color":"#0000ff"},"encoding":{"x":{"field":"w","type":"quantitative","axis":null},"text":{"field":"b"}}},{"transform":[{"filter":"datum.k=='r'"}],"mark":{"type":"line","color":"#ff0000","strokeWidth":2.3,"clip":true},"encoding":{"x":{"field":"w","type":"quantitative","axis":null}}},{"transform":[{"filter":"datum.k=='b'"}],"mark":{"type":"line","color":"#0000ff","strokeWidth":2.3,"clip":true},"encoding":{"x":{"field":"w","type":"quantitative","axis":null}}},{"transform":[{"filter":"datum.k=='p'&&isValid(datum.lo)"}],"mark":{"type":"rule","color":"#000","strokeWidth":1.3,"clip":true},"encoding":{"x":{"field":"w","type":"quantitative","axis":null},"y":{"field":"lo","type":"quantitative","axis":null},"y2":{"field":"hi"}}},{"transform":[{"filter":"datum.k=='p'&&isValid(datum.lo)"}],"mark":{"type":"tick","orient":"horizontal","size":6,"thickness":1.3,"color":"#000","clip":true},"encoding":{"x":{"field":"w","type":"quantitative","axis":null},"y":{"field":"lo","type":"quantitative","axis":null}}},{"transform":[{"filter":"datum.k=='p'&&isValid(datum.lo)"}],"mark":{"type":"tick","orient":"horizontal","size":6,"thickness":1.3,"color":"#000","clip":true},"encoding":{"x":{"field":"w","type":"quantitative","axis":null},"y":{"field":"hi","type":"quantitative","axis":null}}},
{"transform":[{"filter":"datum.k=='p'"}],"mark":{"type":"point","opacity":0},"encoding":{"x":{"field":"w","type":"quantitative","axis":{"orient":"top","values":[1.5,1.55,1.6,1.65,1.7],"labels":false,"title":null}},"y":{"field":"y","type":"quantitative","axis":{"orient":"right","values":[-1,0,1,2,3,4,5,6],"labels":false,"title":null}}}},
{"transform":[{"filter":"datum.k=='p'"}],"mark":{"type":"circle","size":30,"color":"#000","opacity":1},"encoding":{"y":{"field":"y","type":"quantitative","axis":{"values":[-1,0,1,2,3,4,5,6],"labels":false,"title":null}},"x":{"field":"w","type":"quantitative","scale":{"domain":[1.48,1.908],"nice":false,"zero":false},"axis":{"values":[1.5,1.55,1.6,1.65,1.7,1.75,1.8,1.85,1.9],"title":null,"labelExpr":"abs(datum.value-1.6)<0.001?'1.6':''","grid":true,"gridDash":[2,2.5],"gridColor":"#222","gridWidth":0.9,"gridOpacity":{"condition":{"test":"abs(datum.value-1.6)<0.001||abs(datum.value-1.8)<0.001","value":1},"value":0}}}}}
]}
]
}
